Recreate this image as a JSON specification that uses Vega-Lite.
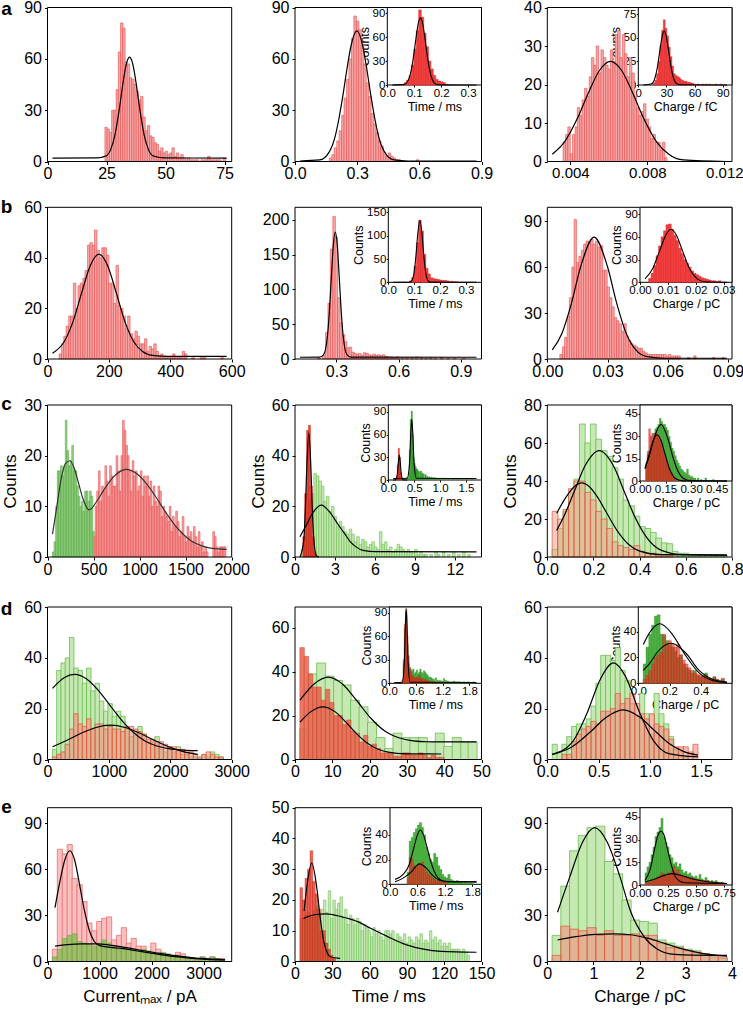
{
"$schema": "https://vega.github.io/schema/vega-lite/v6.json",
"width": 743, "height": 1011, "autosize": {"type": "none"}, "padding": 0, "background": "white",
"config": {
 "view": {"stroke": null},
 "axis": {"domain": false, "grid": false, "ticks": true, "tickColor": "#000", "tickSize": 3, "labelFont": "Liberation Sans", "labelFontSize": 16, "labelColor": "#000", "labelPadding": 3, "labelFlush": false, "labelOverlap": false, "titleFont": "Liberation Sans", "titleFontSize": 17, "titleFontWeight": "normal", "titleColor": "#000", "titlePadding": 4, "zindex": 1},
 "axisBottom": {"labelPadding": 1}
},
"resolve": {"scale": {"x": "independent", "y": "independent"}, "axis": {"x": "independent", "y": "independent"}},
"datasets": {
"A1r": [{"x":24,"y":20},{"x":25,"y":19},{"x":26,"y":17},{"x":27,"y":30},{"x":28,"y":30},{"x":29,"y":42},{"x":30,"y":64},{"x":31,"y":81},{"x":32,"y":78},{"x":33,"y":58},{"x":34,"y":57},{"x":35,"y":49},{"x":36,"y":48},{"x":37,"y":45},{"x":38,"y":41},{"x":39,"y":36},{"x":40,"y":38},{"x":41,"y":26},{"x":42,"y":18},{"x":43,"y":21},{"x":44,"y":15},{"x":45,"y":14},{"x":46,"y":11},{"x":47,"y":10},{"x":48,"y":6},{"x":49,"y":8},{"x":50,"y":5},{"x":51,"y":6},{"x":52,"y":4},{"x":53,"y":5},{"x":54,"y":8},{"x":55,"y":3},{"x":56,"y":5},{"x":57,"y":2},{"x":58,"y":4},{"x":59,"y":2},{"x":60,"y":1},{"x":61,"y":2},{"x":62,"y":1},{"x":63,"y":1},{"x":64,"y":1},{"x":65,"y":1},{"x":67,"y":1},{"x":68,"y":1},{"x":69,"y":1},{"x":70,"y":3},{"x":71,"y":1},{"x":72,"y":1},{"x":73,"y":1},{"x":74,"y":1},{"x":75,"y":1},{"x":77,"y":2}],
"A1c": [{"x":0,"y":2},{"x":20,"y":2.1},{"x":24,"y":3.3},{"x":26,"y":6.8},{"x":28,"y":15.7},{"x":30,"y":31.3},{"x":31.5,"y":45.2},{"x":32.5,"y":53.4},{"x":33.5,"y":59},{"x":34.5,"y":61},{"x":35.5,"y":59},{"x":36.5,"y":53.4},{"x":37.5,"y":45.2},{"x":39,"y":31.3},{"x":41,"y":15.7},{"x":43,"y":6.8},{"x":45,"y":3.3},{"x":50,"y":2.1},{"x":78,"y":2}],
"A2r": [{"x":0.156,"y":2},{"x":0.169,"y":4},{"x":0.181,"y":8},{"x":0.194,"y":12},{"x":0.206,"y":18},{"x":0.219,"y":27},{"x":0.231,"y":37},{"x":0.244,"y":48},{"x":0.256,"y":60},{"x":0.269,"y":72},{"x":0.281,"y":85},{"x":0.294,"y":82},{"x":0.306,"y":77},{"x":0.319,"y":68},{"x":0.331,"y":57},{"x":0.344,"y":46},{"x":0.356,"y":38},{"x":0.369,"y":28},{"x":0.381,"y":22},{"x":0.394,"y":17},{"x":0.406,"y":12},{"x":0.419,"y":9},{"x":0.431,"y":5},{"x":0.444,"y":3},{"x":0.456,"y":5},{"x":0.469,"y":3},{"x":0.481,"y":2},{"x":0.494,"y":1},{"x":0.506,"y":1},{"x":0.6,"y":1}],
"A2c": [{"x":0,"y":0.3},{"x":0.1,"y":0.9},{"x":0.15,"y":5.8},{"x":0.18,"y":15},{"x":0.2,"y":26},{"x":0.22,"y":39.5},{"x":0.24,"y":54.5},{"x":0.26,"y":67.5},{"x":0.29,"y":76.3},{"x":0.32,"y":67.5},{"x":0.34,"y":54.5},{"x":0.36,"y":39.5},{"x":0.38,"y":26},{"x":0.4,"y":15},{"x":0.43,"y":5.8},{"x":0.48,"y":0.9},{"x":0.55,"y":0.3},{"x":0.9,"y":0.3}],
"A2ir": [{"x":0.055,"y":3},{"x":0.065,"y":6},{"x":0.075,"y":12},{"x":0.085,"y":25},{"x":0.095,"y":45},{"x":0.105,"y":68},{"x":0.115,"y":94},{"x":0.125,"y":85},{"x":0.135,"y":65},{"x":0.145,"y":48},{"x":0.155,"y":30},{"x":0.165,"y":20},{"x":0.175,"y":12},{"x":0.185,"y":7},{"x":0.195,"y":5},{"x":0.205,"y":4},{"x":0.215,"y":3},{"x":0.225,"y":1}],
"A2ic": [{"x":0,"y":0},{"x":0.05,"y":0.8},{"x":0.07,"y":8.6},{"x":0.08,"y":20.4},{"x":0.09,"y":39.6},{"x":0.1,"y":62},{"x":0.11,"y":80},{"x":0.117,"y":84},{"x":0.125,"y":78.6},{"x":0.135,"y":60},{"x":0.145,"y":37.4},{"x":0.155,"y":18.9},{"x":0.165,"y":7.8},{"x":0.18,"y":1.4},{"x":0.2,"y":0.1},{"x":0.35,"y":0}],
"A3r": [{"x":0.00346,"y":5},{"x":0.0036,"y":7},{"x":0.00372,"y":9},{"x":0.00386,"y":2},{"x":0.00398,"y":7},{"x":0.00412,"y":9},{"x":0.00424,"y":14},{"x":0.00438,"y":12},{"x":0.0045,"y":16},{"x":0.00464,"y":19},{"x":0.00476,"y":17},{"x":0.0049,"y":22},{"x":0.00502,"y":27},{"x":0.00516,"y":25},{"x":0.00528,"y":30},{"x":0.00542,"y":23},{"x":0.00554,"y":29},{"x":0.00568,"y":27},{"x":0.0058,"y":25},{"x":0.00594,"y":24},{"x":0.00606,"y":29},{"x":0.0062,"y":26},{"x":0.00632,"y":33},{"x":0.00646,"y":34},{"x":0.00658,"y":27},{"x":0.00672,"y":33},{"x":0.00684,"y":28},{"x":0.00698,"y":22},{"x":0.0071,"y":27},{"x":0.00724,"y":23},{"x":0.00736,"y":17},{"x":0.0075,"y":14},{"x":0.00762,"y":12},{"x":0.00776,"y":13},{"x":0.00788,"y":15},{"x":0.00802,"y":11},{"x":0.00814,"y":9},{"x":0.00828,"y":6},{"x":0.0084,"y":7},{"x":0.00854,"y":5},{"x":0.00866,"y":5},{"x":0.0088,"y":3},{"x":0.00892,"y":5},{"x":0.00904,"y":1}],
"A3c": [{"x":0.0028,"y":1.9},{"x":0.0035,"y":5.3},{"x":0.0042,"y":11.4},{"x":0.0048,"y":18},{"x":0.0054,"y":23.7},{"x":0.006,"y":26},{"x":0.0066,"y":23.7},{"x":0.0072,"y":18},{"x":0.0078,"y":11.4},{"x":0.0085,"y":5.3},{"x":0.0092,"y":1.9},{"x":0.01,"y":0.4},{"x":0.0124,"y":0}],
"A3ir": [{"x":13,"y":2},{"x":15,"y":5},{"x":17,"y":12},{"x":19,"y":25},{"x":21,"y":42},{"x":23,"y":58},{"x":25,"y":69},{"x":27,"y":60},{"x":29,"y":52},{"x":31,"y":40},{"x":33,"y":30},{"x":35,"y":20},{"x":37,"y":12},{"x":39,"y":10},{"x":41,"y":9},{"x":43,"y":8},{"x":45,"y":6},{"x":47,"y":5},{"x":49,"y":4},{"x":51,"y":4},{"x":53,"y":3},{"x":55,"y":3},{"x":57,"y":2},{"x":59,"y":2},{"x":61,"y":1},{"x":65,"y":1},{"x":71,"y":1},{"x":75,"y":1},{"x":79,"y":1},{"x":87,"y":1},{"x":93,"y":1}],
"A3ic": [{"x":0,"y":0},{"x":10,"y":1.4},{"x":14,"y":7.7},{"x":17,"y":19.8},{"x":20,"y":37.7},{"x":23,"y":53.4},{"x":25,"y":57},{"x":27,"y":53.4},{"x":30,"y":37.7},{"x":33,"y":19.8},{"x":36,"y":7.7},{"x":40,"y":1.4},{"x":45,"y":0.2},{"x":100,"y":0}],
"B1r": [{"x":27,"y":2},{"x":35,"y":6},{"x":43,"y":9},{"x":51,"y":13},{"x":60,"y":17},{"x":67,"y":17},{"x":76,"y":30},{"x":84,"y":20},{"x":92,"y":29},{"x":100,"y":30},{"x":109,"y":32},{"x":116,"y":35},{"x":125,"y":45},{"x":133,"y":46},{"x":141,"y":45},{"x":149,"y":51},{"x":158,"y":43},{"x":165,"y":40},{"x":174,"y":44},{"x":182,"y":44},{"x":190,"y":41},{"x":198,"y":30},{"x":207,"y":30},{"x":214,"y":22},{"x":223,"y":37},{"x":230,"y":21},{"x":239,"y":20},{"x":247,"y":17},{"x":255,"y":12},{"x":263,"y":17},{"x":272,"y":10},{"x":279,"y":8},{"x":288,"y":11},{"x":296,"y":9},{"x":304,"y":6},{"x":312,"y":6},{"x":321,"y":8},{"x":328,"y":3},{"x":337,"y":5},{"x":345,"y":4},{"x":353,"y":6},{"x":361,"y":3},{"x":370,"y":1},{"x":377,"y":2},{"x":386,"y":1},{"x":393,"y":1},{"x":402,"y":1},{"x":410,"y":1},{"x":418,"y":2},{"x":426,"y":1},{"x":435,"y":1},{"x":442,"y":1},{"x":451,"y":3},{"x":459,"y":2},{"x":484,"y":1},{"x":513,"y":1},{"x":524,"y":1},{"x":584,"y":1}],
"B1c": [{"x":0,"y":2.3},{"x":40,"y":6.8},{"x":70,"y":14.6},{"x":100,"y":26},{"x":130,"y":36.9},{"x":160,"y":41.5},{"x":190,"y":36.9},{"x":220,"y":26},{"x":250,"y":14.6},{"x":280,"y":6.8},{"x":310,"y":3},{"x":350,"y":1.3},{"x":400,"y":1},{"x":600,"y":1}],
"B2r": [{"x":0.196,"y":1},{"x":0.22,"y":5},{"x":0.237,"y":38},{"x":0.249,"y":80},{"x":0.261,"y":158},{"x":0.274,"y":205},{"x":0.285,"y":175},{"x":0.298,"y":88},{"x":0.309,"y":52},{"x":0.322,"y":35},{"x":0.333,"y":25},{"x":0.346,"y":16},{"x":0.357,"y":17},{"x":0.37,"y":10},{"x":0.381,"y":8},{"x":0.394,"y":7},{"x":0.405,"y":8},{"x":0.418,"y":5},{"x":0.429,"y":9},{"x":0.442,"y":8},{"x":0.454,"y":6},{"x":0.466,"y":5},{"x":0.478,"y":7},{"x":0.491,"y":5},{"x":0.502,"y":6},{"x":0.515,"y":5},{"x":0.526,"y":6},{"x":0.539,"y":4},{"x":0.55,"y":3},{"x":0.566,"y":3},{"x":0.582,"y":2},{"x":0.598,"y":3},{"x":0.622,"y":2},{"x":0.646,"y":2},{"x":0.671,"y":2},{"x":0.695,"y":3},{"x":0.719,"y":2},{"x":0.743,"y":1},{"x":0.767,"y":2},{"x":0.791,"y":1},{"x":0.823,"y":2},{"x":0.855,"y":1},{"x":0.888,"y":1},{"x":0.936,"y":1}],
"B2c": [{"x":0.1,"y":2.5},{"x":0.2,"y":2.7},{"x":0.22,"y":5.9},{"x":0.24,"y":33},{"x":0.25,"y":69},{"x":0.26,"y":118},{"x":0.27,"y":164},{"x":0.28,"y":182.5},{"x":0.29,"y":164},{"x":0.3,"y":118},{"x":0.31,"y":69},{"x":0.32,"y":33},{"x":0.34,"y":5.9},{"x":0.36,"y":2.7},{"x":1.0,"y":2.5}],
"B2ir": [{"x":0.075,"y":3},{"x":0.085,"y":10},{"x":0.095,"y":35},{"x":0.105,"y":85},{"x":0.115,"y":133},{"x":0.125,"y":110},{"x":0.135,"y":60},{"x":0.145,"y":30},{"x":0.155,"y":18},{"x":0.165,"y":10},{"x":0.175,"y":8},{"x":0.185,"y":7},{"x":0.195,"y":6},{"x":0.205,"y":5},{"x":0.215,"y":4},{"x":0.225,"y":4},{"x":0.235,"y":3},{"x":0.245,"y":2},{"x":0.255,"y":2},{"x":0.265,"y":1},{"x":0.275,"y":1}],
"B2ic": [{"x":0,"y":0},{"x":0.07,"y":0},{"x":0.08,"y":3.6},{"x":0.09,"y":21},{"x":0.1,"y":68},{"x":0.105,"y":99},{"x":0.115,"y":133},{"x":0.125,"y":99},{"x":0.13,"y":68},{"x":0.14,"y":21},{"x":0.15,"y":3.6},{"x":0.16,"y":0.3},{"x":0.36,"y":0}],
"B3r": [{"x":0.0046,"y":3},{"x":0.006,"y":8},{"x":0.0071,"y":14},{"x":0.0085,"y":28},{"x":0.0096,"y":40},{"x":0.0109,"y":60},{"x":0.0121,"y":91},{"x":0.0134,"y":63},{"x":0.0146,"y":67},{"x":0.0159,"y":71},{"x":0.0171,"y":75},{"x":0.0184,"y":77},{"x":0.0196,"y":76},{"x":0.0209,"y":78},{"x":0.022,"y":75},{"x":0.0234,"y":77},{"x":0.0245,"y":73},{"x":0.0259,"y":74},{"x":0.027,"y":58},{"x":0.0283,"y":58},{"x":0.0295,"y":47},{"x":0.0308,"y":40},{"x":0.032,"y":34},{"x":0.0333,"y":27},{"x":0.0345,"y":25},{"x":0.0358,"y":23},{"x":0.037,"y":18},{"x":0.0383,"y":23},{"x":0.0394,"y":15},{"x":0.0408,"y":12},{"x":0.0419,"y":10},{"x":0.0433,"y":9},{"x":0.0444,"y":8},{"x":0.0457,"y":7},{"x":0.0469,"y":7},{"x":0.0482,"y":5},{"x":0.0494,"y":4},{"x":0.0507,"y":3},{"x":0.0519,"y":3},{"x":0.0532,"y":3},{"x":0.0544,"y":3},{"x":0.0557,"y":3},{"x":0.0569,"y":3},{"x":0.0582,"y":3},{"x":0.0593,"y":3},{"x":0.0607,"y":2},{"x":0.0618,"y":3},{"x":0.0632,"y":2},{"x":0.0643,"y":2},{"x":0.0656,"y":2},{"x":0.0668,"y":2},{"x":0.0718,"y":1},{"x":0.0751,"y":2},{"x":0.085,"y":1},{"x":0.09,"y":1}],
"B3c": [{"x":0,"y":5.9},{"x":0.005,"y":16.5},{"x":0.01,"y":36},{"x":0.015,"y":60.5},{"x":0.022,"y":79.5},{"x":0.029,"y":60.5},{"x":0.034,"y":36},{"x":0.039,"y":16.5},{"x":0.044,"y":5.9},{"x":0.05,"y":1.5},{"x":0.06,"y":0.5},{"x":0.092,"y":0.5}],
"B3ir": [{"x":0.002,"y":5},{"x":0.003,"y":12},{"x":0.004,"y":22},{"x":0.005,"y":35},{"x":0.006,"y":48},{"x":0.007,"y":60},{"x":0.008,"y":68},{"x":0.009,"y":76},{"x":0.01,"y":77},{"x":0.011,"y":70},{"x":0.012,"y":62},{"x":0.013,"y":55},{"x":0.014,"y":45},{"x":0.015,"y":38},{"x":0.016,"y":30},{"x":0.017,"y":25},{"x":0.018,"y":20},{"x":0.019,"y":15},{"x":0.02,"y":12},{"x":0.021,"y":10},{"x":0.022,"y":8},{"x":0.023,"y":6},{"x":0.024,"y":5},{"x":0.025,"y":4},{"x":0.026,"y":3},{"x":0.027,"y":2},{"x":0.028,"y":2},{"x":0.029,"y":1},{"x":0.03,"y":2}],
"B3ic": [{"x":0,"y":4.6},{"x":0.003,"y":17.4},{"x":0.006,"y":42.5},{"x":0.0085,"y":63},{"x":0.0105,"y":70},{"x":0.0125,"y":63},{"x":0.015,"y":42.5},{"x":0.018,"y":17.4},{"x":0.021,"y":4.6},{"x":0.024,"y":0.8},{"x":0.033,"y":0}],
"C1g": [{"x":9,"y":1},{"x":28,"y":3},{"x":46,"y":10},{"x":65,"y":17},{"x":83,"y":17},{"x":102,"y":18},{"x":120,"y":16},{"x":139,"y":18},{"x":157,"y":27},{"x":176,"y":21},{"x":194,"y":18},{"x":213,"y":19},{"x":231,"y":22},{"x":250,"y":17},{"x":268,"y":17},{"x":287,"y":14},{"x":305,"y":12},{"x":324,"y":10},{"x":342,"y":11},{"x":361,"y":9},{"x":379,"y":13},{"x":398,"y":13},{"x":416,"y":11},{"x":435,"y":13},{"x":453,"y":12},{"x":470,"y":5}],
"C1r": [{"x":488,"y":4},{"x":500,"y":10},{"x":518,"y":13},{"x":537,"y":17},{"x":555,"y":11},{"x":574,"y":14},{"x":592,"y":13},{"x":611,"y":18},{"x":629,"y":15},{"x":648,"y":12},{"x":666,"y":18},{"x":685,"y":16},{"x":703,"y":14},{"x":722,"y":14},{"x":740,"y":20},{"x":759,"y":17},{"x":777,"y":13},{"x":796,"y":20},{"x":814,"y":27},{"x":833,"y":25},{"x":851,"y":22},{"x":870,"y":20},{"x":888,"y":17},{"x":907,"y":13},{"x":925,"y":19},{"x":944,"y":16},{"x":962,"y":17},{"x":981,"y":13},{"x":999,"y":14},{"x":1018,"y":17},{"x":1036,"y":12},{"x":1055,"y":16},{"x":1073,"y":14},{"x":1092,"y":16},{"x":1110,"y":12},{"x":1129,"y":15},{"x":1147,"y":10},{"x":1166,"y":14},{"x":1184,"y":11},{"x":1203,"y":10},{"x":1221,"y":14},{"x":1240,"y":13},{"x":1258,"y":8},{"x":1277,"y":10},{"x":1295,"y":9},{"x":1314,"y":8},{"x":1332,"y":7},{"x":1351,"y":10},{"x":1369,"y":5},{"x":1388,"y":8},{"x":1406,"y":6},{"x":1425,"y":9},{"x":1443,"y":7},{"x":1462,"y":4},{"x":1480,"y":5},{"x":1499,"y":8},{"x":1517,"y":4},{"x":1536,"y":3},{"x":1554,"y":6},{"x":1573,"y":4},{"x":1591,"y":5},{"x":1610,"y":3},{"x":1628,"y":6},{"x":1647,"y":4},{"x":1665,"y":2},{"x":1684,"y":5},{"x":1702,"y":2},{"x":1721,"y":3},{"x":1739,"y":1},{"x":1758,"y":2},{"x":1776,"y":1},{"x":1850,"y":5},{"x":1869,"y":4},{"x":1887,"y":2},{"x":1906,"y":1},{"x":1924,"y":2},{"x":1943,"y":2},{"x":1961,"y":2},{"x":1980,"y":2}],
"C1c": [{"x":0,"y":4.5},{"x":50,"y":10},{"x":100,"y":15.5},{"x":150,"y":18.5},{"x":200,"y":19},{"x":250,"y":17.5},{"x":300,"y":14.5},{"x":350,"y":11.5},{"x":400,"y":9.6},{"x":420,"y":9.3},{"x":450,"y":9.6},{"x":500,"y":10.8},{"x":600,"y":13.5},{"x":700,"y":15.8},{"x":800,"y":17.1},{"x":850,"y":17.3},{"x":900,"y":17.1},{"x":1000,"y":16},{"x":1100,"y":14},{"x":1200,"y":11.5},{"x":1300,"y":8.8},{"x":1400,"y":6.4},{"x":1500,"y":4.5},{"x":1600,"y":3.1},{"x":1700,"y":2.3},{"x":1800,"y":1.8},{"x":1900,"y":1.6},{"x":2000,"y":1.5}],
"C2g": [{"x":0.2,"y":3},{"x":0.4,"y":8},{"x":0.6,"y":15},{"x":0.8,"y":22},{"x":1.0,"y":25},{"x":1.2,"y":33},{"x":1.4,"y":32},{"x":1.6,"y":30},{"x":1.8,"y":28},{"x":2.0,"y":22},{"x":2.2,"y":24},{"x":2.4,"y":18},{"x":2.6,"y":20},{"x":2.8,"y":16},{"x":3.0,"y":12},{"x":3.2,"y":14},{"x":3.4,"y":12},{"x":3.6,"y":10},{"x":3.8,"y":9},{"x":4.0,"y":11},{"x":4.2,"y":9},{"x":4.4,"y":6},{"x":4.6,"y":8},{"x":4.8,"y":5},{"x":5.0,"y":7},{"x":5.2,"y":6},{"x":5.4,"y":4},{"x":5.6,"y":5},{"x":5.8,"y":6},{"x":6.0,"y":4},{"x":6.2,"y":3},{"x":6.4,"y":10},{"x":6.6,"y":5},{"x":6.8,"y":6},{"x":7.0,"y":3},{"x":7.2,"y":4},{"x":7.4,"y":2},{"x":7.6,"y":3},{"x":7.8,"y":5},{"x":8.0,"y":4},{"x":8.2,"y":3},{"x":8.4,"y":2},{"x":8.6,"y":3},{"x":8.8,"y":2},{"x":9.0,"y":2},{"x":9.2,"y":3},{"x":9.4,"y":1},{"x":9.6,"y":2},{"x":9.8,"y":1},{"x":10.0,"y":1},{"x":10.4,"y":1},{"x":10.8,"y":2},{"x":11.0,"y":1},{"x":11.4,"y":2},{"x":11.8,"y":1},{"x":12.2,"y":2},{"x":12.6,"y":1},{"x":13.0,"y":2},{"x":13.4,"y":1}],
"C2r": [{"x":0.3,"y":8},{"x":0.45,"y":25},{"x":0.6,"y":50},{"x":0.75,"y":52},{"x":0.9,"y":28},{"x":1.05,"y":8},{"x":1.2,"y":2}],
"C2c1": [{"x":0,"y":0},{"x":0.3,"y":6.6},{"x":0.45,"y":22.4},{"x":0.55,"y":37},{"x":0.7,"y":49},{"x":0.85,"y":37},{"x":0.95,"y":22.4},{"x":1.1,"y":6.6},{"x":1.3,"y":0.5},{"x":1.5,"y":0}],
"C2c2": [{"x":0,"y":8},{"x":0.5,"y":12.5},{"x":1.0,"y":17.3},{"x":1.7,"y":20.5},{"x":2.3,"y":18.1},{"x":3.0,"y":13},{"x":3.5,"y":9.5},{"x":4.0,"y":6},{"x":4.5,"y":3.8},{"x":5.0,"y":2.6},{"x":6.0,"y":2.1},{"x":14,"y":2}],
"C2ir": [{"x":0.08,"y":5},{"x":0.1,"y":20},{"x":0.12,"y":42},{"x":0.14,"y":30},{"x":0.16,"y":10},{"x":0.18,"y":3}],
"C2ig": [{"x":0.1,"y":2},{"x":0.14,"y":3},{"x":0.2,"y":2},{"x":0.3,"y":3},{"x":0.34,"y":10},{"x":0.36,"y":40},{"x":0.38,"y":80},{"x":0.4,"y":91},{"x":0.42,"y":60},{"x":0.44,"y":30},{"x":0.46,"y":22},{"x":0.48,"y":18},{"x":0.5,"y":15},{"x":0.52,"y":14},{"x":0.55,"y":12},{"x":0.58,"y":10},{"x":0.6,"y":12},{"x":0.63,"y":9},{"x":0.66,"y":8},{"x":0.7,"y":7},{"x":0.74,"y":5},{"x":0.78,"y":4},{"x":0.82,"y":4},{"x":0.86,"y":3},{"x":0.9,"y":3},{"x":0.95,"y":2},{"x":1.0,"y":2},{"x":1.1,"y":2},{"x":1.2,"y":1},{"x":1.3,"y":1},{"x":1.4,"y":1},{"x":1.5,"y":1},{"x":1.6,"y":1},{"x":1.7,"y":1}],
"C2ic1": [{"x":0,"y":0},{"x":0.05,"y":0.2},{"x":0.09,"y":9.2},{"x":0.11,"y":24},{"x":0.13,"y":33},{"x":0.15,"y":24},{"x":0.17,"y":9.2},{"x":0.21,"y":0.2},{"x":0.3,"y":0}],
"C2ic2": [{"x":0,"y":2},{"x":0.3,"y":2.3},{"x":0.35,"y":21.5},{"x":0.38,"y":64.5},{"x":0.4,"y":80},{"x":0.42,"y":64.5},{"x":0.45,"y":21.5},{"x":0.5,"y":2.3},{"x":1.8,"y":2}],
"C3g": [{"x":0.0125,"y":4},{"x":0.0375,"y":15},{"x":0.0625,"y":24},{"x":0.0875,"y":34},{"x":0.1125,"y":41},{"x":0.1375,"y":70},{"x":0.1625,"y":60},{"x":0.1875,"y":70},{"x":0.2125,"y":62},{"x":0.2375,"y":56},{"x":0.2625,"y":53},{"x":0.2875,"y":47},{"x":0.3125,"y":41},{"x":0.3375,"y":30},{"x":0.3625,"y":27},{"x":0.3875,"y":21.5},{"x":0.4125,"y":16},{"x":0.4375,"y":15},{"x":0.4625,"y":13},{"x":0.4875,"y":10},{"x":0.5125,"y":7.5},{"x":0.5375,"y":7},{"x":0.5625,"y":3},{"x":0.5875,"y":2},{"x":0.6125,"y":2},{"x":0.6375,"y":1},{"x":0.6625,"y":1},{"x":0.6875,"y":1},{"x":0.7125,"y":1},{"x":0.7375,"y":1},{"x":0.7625,"y":1},{"x":0.7875,"y":1}],
"C3r": [{"x":0.0125,"y":24},{"x":0.0375,"y":20},{"x":0.0625,"y":25},{"x":0.0875,"y":36},{"x":0.1125,"y":40},{"x":0.1375,"y":40},{"x":0.1625,"y":34},{"x":0.1875,"y":30},{"x":0.2125,"y":24},{"x":0.2375,"y":20},{"x":0.2625,"y":15},{"x":0.2875,"y":8},{"x":0.3125,"y":6},{"x":0.3375,"y":5},{"x":0.3625,"y":4},{"x":0.3875,"y":6},{"x":0.4125,"y":3},{"x":0.4375,"y":2},{"x":0.4625,"y":2},{"x":0.4875,"y":1},{"x":0.5125,"y":1},{"x":0.5375,"y":1}],
"C3c1": [{"x":0.02,"y":14},{"x":0.05,"y":20.6},{"x":0.1,"y":34.3},{"x":0.15,"y":48},{"x":0.215,"y":56},{"x":0.28,"y":48},{"x":0.33,"y":34.3},{"x":0.38,"y":20.6},{"x":0.43,"y":10.6},{"x":0.5,"y":3.5},{"x":0.6,"y":1.2},{"x":0.8,"y":1}],
"C3c2": [{"x":0.02,"y":23},{"x":0.06,"y":31},{"x":0.1,"y":37},{"x":0.135,"y":39},{"x":0.17,"y":37},{"x":0.21,"y":31},{"x":0.25,"y":23},{"x":0.3,"y":13.4},{"x":0.35,"y":6.6},{"x":0.4,"y":3.1},{"x":0.5,"y":1.2},{"x":0.8,"y":1}],
"C3ig": [{"x":0.01,"y":12},{"x":0.02,"y":18},{"x":0.03,"y":20},{"x":0.04,"y":24},{"x":0.05,"y":27},{"x":0.06,"y":32},{"x":0.07,"y":35},{"x":0.08,"y":36},{"x":0.09,"y":38},{"x":0.1,"y":42},{"x":0.11,"y":40},{"x":0.12,"y":38},{"x":0.13,"y":38},{"x":0.14,"y":36},{"x":0.15,"y":34},{"x":0.16,"y":30},{"x":0.17,"y":26},{"x":0.18,"y":22},{"x":0.19,"y":20},{"x":0.2,"y":17},{"x":0.21,"y":14},{"x":0.22,"y":12},{"x":0.23,"y":10},{"x":0.24,"y":8},{"x":0.25,"y":7},{"x":0.26,"y":6},{"x":0.27,"y":5},{"x":0.28,"y":8},{"x":0.29,"y":4},{"x":0.3,"y":3},{"x":0.31,"y":3},{"x":0.32,"y":2},{"x":0.33,"y":2},{"x":0.35,"y":2},{"x":0.37,"y":1},{"x":0.4,"y":2},{"x":0.45,"y":1}],
"C3ir": [{"x":0.01,"y":10},{"x":0.02,"y":20},{"x":0.03,"y":35},{"x":0.04,"y":30},{"x":0.05,"y":32},{"x":0.06,"y":30},{"x":0.07,"y":32},{"x":0.08,"y":31},{"x":0.09,"y":30},{"x":0.1,"y":28},{"x":0.11,"y":24},{"x":0.12,"y":20},{"x":0.13,"y":17},{"x":0.14,"y":14},{"x":0.15,"y":11},{"x":0.16,"y":9},{"x":0.17,"y":6},{"x":0.18,"y":5},{"x":0.19,"y":3},{"x":0.2,"y":2},{"x":0.22,"y":1},{"x":0.25,"y":1},{"x":0.3,"y":1}],
"C3ic1": [{"x":0,"y":8.2},{"x":0.03,"y":17.4},{"x":0.06,"y":28.7},{"x":0.105,"y":38},{"x":0.15,"y":28.7},{"x":0.18,"y":17.4},{"x":0.21,"y":8.2},{"x":0.25,"y":2},{"x":0.3,"y":0.2},{"x":0.54,"y":0}],
"C3ic2": [{"x":0,"y":8.6},{"x":0.03,"y":18.8},{"x":0.055,"y":27.3},{"x":0.08,"y":31},{"x":0.105,"y":27.3},{"x":0.13,"y":18.8},{"x":0.16,"y":8.6},{"x":0.2,"y":1.7},{"x":0.25,"y":0.1},{"x":0.54,"y":0}],
"D1g": [{"x":37,"y":4},{"x":110,"y":35},{"x":184,"y":38},{"x":257,"y":40},{"x":331,"y":48},{"x":404,"y":36},{"x":478,"y":35},{"x":551,"y":30},{"x":625,"y":36},{"x":698,"y":27},{"x":772,"y":30},{"x":845,"y":23},{"x":919,"y":19},{"x":992,"y":22},{"x":1066,"y":17},{"x":1139,"y":19},{"x":1213,"y":17},{"x":1286,"y":12},{"x":1360,"y":9},{"x":1433,"y":11},{"x":1507,"y":13},{"x":1580,"y":10},{"x":1654,"y":7},{"x":1727,"y":7},{"x":1801,"y":9},{"x":1874,"y":4},{"x":1948,"y":3},{"x":2021,"y":5},{"x":2095,"y":3},{"x":2168,"y":5},{"x":2242,"y":2},{"x":2315,"y":2},{"x":2389,"y":1},{"x":2462,"y":1},{"x":2536,"y":0.5},{"x":2609,"y":2},{"x":2683,"y":1},{"x":2756,"y":3},{"x":2830,"y":2},{"x":2903,"y":1}],
"D1r": [{"x":37,"y":1},{"x":110,"y":2},{"x":184,"y":3},{"x":257,"y":6},{"x":331,"y":12},{"x":404,"y":18},{"x":478,"y":14},{"x":551,"y":13},{"x":625,"y":16},{"x":698,"y":12},{"x":772,"y":14},{"x":845,"y":14},{"x":919,"y":12},{"x":992,"y":13},{"x":1066,"y":12},{"x":1139,"y":12},{"x":1213,"y":11},{"x":1286,"y":13},{"x":1360,"y":13},{"x":1433,"y":12},{"x":1507,"y":11},{"x":1580,"y":10},{"x":1654,"y":8},{"x":1727,"y":8},{"x":1801,"y":7},{"x":1874,"y":7},{"x":1948,"y":6},{"x":2021,"y":5},{"x":2095,"y":5},{"x":2168,"y":4},{"x":2242,"y":4},{"x":2315,"y":3},{"x":2389,"y":3},{"x":2462,"y":2},{"x":2536,"y":1},{"x":2609,"y":2},{"x":2683,"y":3},{"x":2756,"y":2},{"x":2830,"y":1},{"x":2903,"y":1}],
"D1c1": [{"x":0,"y":28},{"x":200,"y":32.2},{"x":380,"y":33.5},{"x":600,"y":31.5},{"x":800,"y":26.9},{"x":1000,"y":21},{"x":1200,"y":15.2},{"x":1400,"y":10.5},{"x":1600,"y":7.2},{"x":1800,"y":5.3},{"x":2000,"y":4.3},{"x":2250,"y":3.7},{"x":2500,"y":3.5}],
"D1c2": [{"x":0,"y":5},{"x":250,"y":7.6},{"x":500,"y":10.4},{"x":750,"y":12.6},{"x":1000,"y":13.5},{"x":1250,"y":12.6},{"x":1500,"y":10.4},{"x":1750,"y":7.6},{"x":2000,"y":5},{"x":2250,"y":3.1},{"x":2500,"y":2}],
"D2g": [{"x":1.2,"y":14},{"x":3.6,"y":39},{"x":6.0,"y":44},{"x":8.4,"y":38},{"x":10.8,"y":36},{"x":13.2,"y":34},{"x":15.6,"y":27},{"x":18.0,"y":24},{"x":20.4,"y":17},{"x":22.8,"y":10},{"x":25.2,"y":5},{"x":27.6,"y":12},{"x":30.0,"y":10},{"x":32.4,"y":10},{"x":34.8,"y":10},{"x":37.2,"y":8},{"x":39.6,"y":12},{"x":42.0,"y":6},{"x":44.4,"y":10},{"x":46.8,"y":8},{"x":48.9,"y":8}],
"D2r": [{"x":0.6,"y":51},{"x":1.8,"y":47},{"x":3.0,"y":39},{"x":4.2,"y":33},{"x":5.4,"y":33},{"x":6.6,"y":27},{"x":7.8,"y":32},{"x":9.0,"y":26},{"x":10.2,"y":20},{"x":11.4,"y":20},{"x":12.6,"y":16},{"x":13.8,"y":18},{"x":15.0,"y":13},{"x":16.2,"y":12},{"x":17.4,"y":8},{"x":18.6,"y":11},{"x":19.8,"y":6},{"x":21.0,"y":7},{"x":22.2,"y":5},{"x":23.4,"y":3},{"x":24.6,"y":3},{"x":25.8,"y":3},{"x":27.0,"y":1.5},{"x":28.2,"y":1.5},{"x":29.4,"y":3},{"x":30.6,"y":3},{"x":31.8,"y":2},{"x":33.0,"y":2},{"x":34.2,"y":3},{"x":35.4,"y":2},{"x":36.6,"y":1},{"x":37.8,"y":2},{"x":39.0,"y":1},{"x":40.2,"y":1}],
"D2c1": [{"x":0,"y":27},{"x":4,"y":34.4},{"x":8,"y":37.5},{"x":12,"y":34.4},{"x":16,"y":27},{"x":20,"y":18.9},{"x":24,"y":13},{"x":28,"y":9.9},{"x":32,"y":8.5},{"x":36,"y":8.1},{"x":50,"y":8}],
"D2c2": [{"x":0,"y":17},{"x":3,"y":21.7},{"x":6.5,"y":24},{"x":10,"y":21.7},{"x":13,"y":17},{"x":16,"y":11.8},{"x":19,"y":7.5},{"x":22,"y":4.8},{"x":25,"y":3.4},{"x":30,"y":2.6},{"x":40,"y":2.5}],
"D2ig": [{"x":0.24,"y":25},{"x":0.27,"y":70},{"x":0.3,"y":90},{"x":0.33,"y":50},{"x":0.36,"y":25},{"x":0.39,"y":20},{"x":0.42,"y":18},{"x":0.45,"y":15},{"x":0.48,"y":18},{"x":0.51,"y":12},{"x":0.54,"y":14},{"x":0.57,"y":17},{"x":0.6,"y":12},{"x":0.63,"y":14},{"x":0.66,"y":18},{"x":0.69,"y":14},{"x":0.72,"y":12},{"x":0.75,"y":16},{"x":0.78,"y":14},{"x":0.81,"y":12},{"x":0.84,"y":10},{"x":0.87,"y":8},{"x":0.9,"y":8},{"x":0.93,"y":7},{"x":0.96,"y":6},{"x":1.0,"y":5},{"x":1.05,"y":7},{"x":1.1,"y":4},{"x":1.15,"y":4},{"x":1.2,"y":3},{"x":1.25,"y":6},{"x":1.3,"y":4},{"x":1.35,"y":3},{"x":1.4,"y":2},{"x":1.45,"y":2},{"x":1.5,"y":3},{"x":1.55,"y":2},{"x":1.6,"y":2},{"x":1.65,"y":2},{"x":1.7,"y":1},{"x":1.75,"y":2},{"x":1.8,"y":1},{"x":1.85,"y":2},{"x":1.9,"y":1},{"x":1.95,"y":1},{"x":2.0,"y":2}],
"D2ir": [{"x":0.21,"y":5},{"x":0.24,"y":30},{"x":0.27,"y":75},{"x":0.3,"y":95},{"x":0.33,"y":60},{"x":0.36,"y":35},{"x":0.39,"y":20},{"x":0.42,"y":15},{"x":0.45,"y":10},{"x":0.48,"y":8},{"x":0.51,"y":7},{"x":0.54,"y":6},{"x":0.57,"y":8},{"x":0.6,"y":6},{"x":0.63,"y":10},{"x":0.66,"y":6},{"x":0.69,"y":5},{"x":0.72,"y":6},{"x":0.75,"y":4},{"x":0.78,"y":5},{"x":0.81,"y":4},{"x":0.84,"y":3},{"x":0.87,"y":3},{"x":0.9,"y":2},{"x":0.95,"y":2},{"x":1.0,"y":2},{"x":1.1,"y":1},{"x":1.2,"y":1}],
"D2ic": [{"x":0,"y":1},{"x":0.2,"y":1.4},{"x":0.25,"y":24},{"x":0.28,"y":75},{"x":0.3,"y":94},{"x":0.32,"y":75},{"x":0.35,"y":24},{"x":0.4,"y":1.4},{"x":2.07,"y":1}],
"D3g": [{"x":0.025,"y":6},{"x":0.075,"y":3},{"x":0.125,"y":6},{"x":0.175,"y":9},{"x":0.225,"y":13},{"x":0.275,"y":14},{"x":0.325,"y":14},{"x":0.375,"y":16},{"x":0.425,"y":21},{"x":0.475,"y":30},{"x":0.525,"y":41},{"x":0.575,"y":41},{"x":0.625,"y":39},{"x":0.675,"y":44},{"x":0.725,"y":35},{"x":0.775,"y":31},{"x":0.825,"y":22},{"x":0.875,"y":17},{"x":0.925,"y":26},{"x":0.975,"y":18},{"x":1.025,"y":10},{"x":1.075,"y":26},{"x":1.125,"y":18},{"x":1.175,"y":14},{"x":1.225,"y":9},{"x":1.275,"y":4},{"x":1.325,"y":3},{"x":1.375,"y":1}],
"D3r": [{"x":0.125,"y":2},{"x":0.175,"y":2},{"x":0.225,"y":7},{"x":0.275,"y":10},{"x":0.325,"y":12},{"x":0.375,"y":13},{"x":0.425,"y":15},{"x":0.475,"y":14},{"x":0.525,"y":19},{"x":0.575,"y":19},{"x":0.625,"y":20},{"x":0.675,"y":26},{"x":0.725,"y":22},{"x":0.775,"y":24},{"x":0.825,"y":26},{"x":0.875,"y":22},{"x":0.925,"y":18},{"x":0.975,"y":16},{"x":1.025,"y":18},{"x":1.075,"y":14},{"x":1.125,"y":13},{"x":1.175,"y":12},{"x":1.225,"y":8},{"x":1.275,"y":5},{"x":1.325,"y":5},{"x":1.375,"y":5},{"x":1.425,"y":3},{"x":1.475,"y":6}],
"D3c1": [{"x":0,"y":2},{"x":0.2,"y":6.5},{"x":0.35,"y":17.5},{"x":0.5,"y":32},{"x":0.63,"y":38},{"x":0.75,"y":33},{"x":0.9,"y":18.4},{"x":1.05,"y":7},{"x":1.2,"y":2.3},{"x":1.5,"y":1}],
"D3c2": [{"x":0,"y":2},{"x":0.2,"y":4.9},{"x":0.4,"y":11.1},{"x":0.55,"y":16.4},{"x":0.73,"y":19.5},{"x":0.9,"y":16.7},{"x":1.05,"y":11.5},{"x":1.2,"y":6.4},{"x":1.35,"y":3.2},{"x":1.5,"y":1.7}],
"D3ig": [{"x":0.01,"y":15},{"x":0.03,"y":28},{"x":0.05,"y":38},{"x":0.07,"y":45},{"x":0.09,"y":52},{"x":0.11,"y":53},{"x":0.13,"y":38},{"x":0.15,"y":37},{"x":0.17,"y":33},{"x":0.19,"y":30},{"x":0.21,"y":28},{"x":0.23,"y":25},{"x":0.25,"y":20},{"x":0.27,"y":22},{"x":0.29,"y":15},{"x":0.31,"y":12},{"x":0.33,"y":10},{"x":0.35,"y":8},{"x":0.37,"y":10},{"x":0.39,"y":6},{"x":0.41,"y":5},{"x":0.43,"y":6},{"x":0.45,"y":8},{"x":0.47,"y":4},{"x":0.49,"y":3},{"x":0.51,"y":5},{"x":0.53,"y":3},{"x":0.55,"y":2},{"x":0.57,"y":3}],
"D3ir": [{"x":0.01,"y":3},{"x":0.03,"y":6},{"x":0.05,"y":10},{"x":0.07,"y":15},{"x":0.09,"y":20},{"x":0.11,"y":22},{"x":0.13,"y":24},{"x":0.15,"y":38},{"x":0.17,"y":30},{"x":0.19,"y":33},{"x":0.21,"y":30},{"x":0.23,"y":28},{"x":0.25,"y":30},{"x":0.27,"y":22},{"x":0.29,"y":18},{"x":0.31,"y":15},{"x":0.33,"y":12},{"x":0.35,"y":10},{"x":0.37,"y":8},{"x":0.39,"y":7},{"x":0.41,"y":6},{"x":0.43,"y":5},{"x":0.45,"y":6},{"x":0.47,"y":4},{"x":0.49,"y":3},{"x":0.51,"y":5},{"x":0.53,"y":3},{"x":0.55,"y":2},{"x":0.57,"y":4}],
"D3ic1": [{"x":0,"y":30},{"x":0.05,"y":40},{"x":0.12,"y":46},{"x":0.2,"y":39},{"x":0.3,"y":22},{"x":0.4,"y":8},{"x":0.5,"y":2},{"x":0.6,"y":0.5}],
"D3ic2": [{"x":0,"y":10},{"x":0.05,"y":16},{"x":0.1,"y":24},{"x":0.2,"y":31},{"x":0.3,"y":24},{"x":0.4,"y":10},{"x":0.5,"y":3},{"x":0.6,"y":1}],
"E1r": [{"x":50,"y":8},{"x":150,"y":73},{"x":250,"y":70},{"x":350,"y":76},{"x":450,"y":54},{"x":550,"y":50},{"x":650,"y":39},{"x":750,"y":25},{"x":850,"y":20},{"x":950,"y":26},{"x":1050,"y":28},{"x":1150,"y":29},{"x":1250,"y":14},{"x":1350,"y":17},{"x":1450,"y":22},{"x":1550,"y":12},{"x":1650,"y":15},{"x":1750,"y":10},{"x":1850,"y":10},{"x":1950,"y":6},{"x":2050,"y":12},{"x":2150,"y":8},{"x":2250,"y":4},{"x":2350,"y":3},{"x":2450,"y":3},{"x":2550,"y":6},{"x":2650,"y":5},{"x":2750,"y":2},{"x":2850,"y":1},{"x":2950,"y":2},{"x":3050,"y":3},{"x":3150,"y":2},{"x":3250,"y":3},{"x":3350,"y":2},{"x":3450,"y":2}],
"E1g": [{"x":50,"y":3},{"x":150,"y":8},{"x":250,"y":15},{"x":350,"y":17},{"x":450,"y":18},{"x":550,"y":13},{"x":650,"y":12},{"x":750,"y":11},{"x":850,"y":10},{"x":950,"y":12},{"x":1050,"y":14},{"x":1150,"y":12},{"x":1250,"y":10},{"x":1350,"y":8},{"x":1450,"y":9},{"x":1550,"y":8},{"x":1650,"y":7},{"x":1750,"y":7},{"x":1850,"y":8},{"x":1950,"y":7},{"x":2050,"y":6},{"x":2150,"y":5},{"x":2250,"y":6},{"x":2350,"y":5},{"x":2450,"y":4},{"x":2550,"y":4},{"x":2650,"y":3},{"x":2750,"y":3},{"x":2850,"y":2},{"x":2950,"y":2},{"x":3050,"y":3},{"x":3150,"y":2},{"x":3250,"y":3},{"x":3350,"y":2},{"x":3450,"y":1}],
"E1c1": [{"x":50,"y":35},{"x":150,"y":52},{"x":250,"y":66},{"x":350,"y":72},{"x":450,"y":66},{"x":550,"y":50},{"x":650,"y":33},{"x":750,"y":20},{"x":850,"y":13},{"x":950,"y":10.5},{"x":1100,"y":9.5},{"x":1400,"y":8.5},{"x":1700,"y":7},{"x":2000,"y":5.5},{"x":2300,"y":4},{"x":2600,"y":2.8},{"x":2900,"y":1.8},{"x":3200,"y":1.2},{"x":3500,"y":1}],
"E1c2": [{"x":50,"y":10},{"x":300,"y":11},{"x":600,"y":11.5},{"x":900,"y":11.5},{"x":1200,"y":10.5},{"x":1500,"y":9},{"x":1800,"y":7.3},{"x":2100,"y":5.7},{"x":2400,"y":4.2},{"x":2700,"y":3},{"x":3000,"y":2},{"x":3300,"y":1.5},{"x":3500,"y":1.2}],
"E2g": [{"x":1,"y":14},{"x":3,"y":14},{"x":5,"y":15},{"x":7,"y":16},{"x":9,"y":15},{"x":11,"y":15},{"x":13,"y":17},{"x":15,"y":18},{"x":17,"y":15},{"x":19,"y":17},{"x":21,"y":20},{"x":23,"y":16},{"x":25,"y":23},{"x":27,"y":14},{"x":29,"y":20},{"x":31,"y":17},{"x":33,"y":19},{"x":35,"y":21},{"x":37,"y":14},{"x":39,"y":17},{"x":41,"y":12},{"x":43,"y":15},{"x":45,"y":14},{"x":47,"y":12},{"x":49,"y":14},{"x":51,"y":13},{"x":53,"y":10},{"x":55,"y":12},{"x":57,"y":11},{"x":59,"y":10},{"x":61,"y":8},{"x":63,"y":11},{"x":65,"y":9},{"x":67,"y":10},{"x":69,"y":8},{"x":71,"y":7},{"x":73,"y":10},{"x":75,"y":10},{"x":77,"y":9},{"x":79,"y":10},{"x":81,"y":7},{"x":83,"y":9},{"x":85,"y":8},{"x":87,"y":7},{"x":89,"y":9},{"x":91,"y":6},{"x":93,"y":8},{"x":95,"y":7},{"x":97,"y":6},{"x":99,"y":8},{"x":101,"y":7},{"x":103,"y":9},{"x":105,"y":6},{"x":107,"y":7},{"x":109,"y":6},{"x":111,"y":10},{"x":113,"y":7},{"x":115,"y":8},{"x":117,"y":6},{"x":119,"y":7},{"x":121,"y":5},{"x":123,"y":6},{"x":125,"y":5},{"x":127,"y":6},{"x":129,"y":4},{"x":131,"y":4},{"x":133,"y":4},{"x":135,"y":4},{"x":137,"y":3},{"x":139,"y":4},{"x":141,"y":3},{"x":143,"y":2}],
"E2r": [{"x":1.1,"y":24},{"x":3.2,"y":20},{"x":5.4,"y":27},{"x":7.5,"y":30},{"x":9.7,"y":36},{"x":11.8,"y":26},{"x":14,"y":22},{"x":16.1,"y":17},{"x":18.3,"y":10},{"x":20.4,"y":10},{"x":22.6,"y":6},{"x":24.7,"y":4},{"x":26.9,"y":2},{"x":29,"y":1}],
"E2c1": [{"x":3.5,"y":16.4},{"x":6,"y":24.8},{"x":10,"y":32},{"x":14,"y":24.8},{"x":17,"y":14.8},{"x":20,"y":6.9},{"x":23,"y":2.9},{"x":26,"y":1.45},{"x":34,"y":1}],
"E2c2": [{"x":3,"y":14},{"x":12,"y":15.2},{"x":22,"y":15.5},{"x":35,"y":14.6},{"x":50,"y":12.8},{"x":60,"y":10.8},{"x":75,"y":8},{"x":90,"y":5.5},{"x":105,"y":4},{"x":120,"y":3.3},{"x":150,"y":3}],
"E2ig": [{"x":0.325,"y":10},{"x":0.375,"y":35},{"x":0.425,"y":38},{"x":0.475,"y":42},{"x":0.525,"y":45},{"x":0.575,"y":48},{"x":0.625,"y":50},{"x":0.675,"y":46},{"x":0.725,"y":40},{"x":0.775,"y":30},{"x":0.825,"y":25},{"x":0.875,"y":20},{"x":0.925,"y":18},{"x":0.975,"y":25},{"x":1.025,"y":22},{"x":1.075,"y":15},{"x":1.125,"y":12},{"x":1.175,"y":8},{"x":1.225,"y":6},{"x":1.275,"y":5},{"x":1.325,"y":8},{"x":1.375,"y":4},{"x":1.425,"y":3},{"x":1.475,"y":2},{"x":1.525,"y":3},{"x":1.575,"y":2},{"x":1.625,"y":2},{"x":1.675,"y":1},{"x":1.725,"y":2},{"x":1.775,"y":1},{"x":1.825,"y":1},{"x":1.875,"y":1}],
"E2ir": [{"x":0.325,"y":5},{"x":0.375,"y":22},{"x":0.425,"y":20},{"x":0.475,"y":15},{"x":0.525,"y":14},{"x":0.575,"y":16},{"x":0.625,"y":17},{"x":0.675,"y":18},{"x":0.725,"y":14},{"x":0.775,"y":10},{"x":0.825,"y":8},{"x":0.875,"y":7},{"x":0.925,"y":5},{"x":0.975,"y":4},{"x":1.025,"y":3},{"x":1.075,"y":3},{"x":1.125,"y":2},{"x":1.175,"y":2},{"x":1.225,"y":2},{"x":1.275,"y":1}],
"E2ic1": [{"x":0,"y":4},{"x":0.2,"y":8},{"x":0.35,"y":16},{"x":0.45,"y":28},{"x":0.55,"y":40},{"x":0.62,"y":44},{"x":0.7,"y":40},{"x":0.8,"y":28},{"x":0.9,"y":16},{"x":1.0,"y":8},{"x":1.1,"y":4},{"x":1.3,"y":2},{"x":2.0,"y":2}],
"E2ic2": [{"x":0,"y":2},{"x":0.2,"y":5},{"x":0.4,"y":10},{"x":0.5,"y":14},{"x":0.6,"y":16.5},{"x":0.7,"y":15},{"x":0.8,"y":12},{"x":0.9,"y":8},{"x":1.0,"y":5},{"x":1.2,"y":2.5},{"x":2.0,"y":2}],
"E3g": [{"x":0.1,"y":17},{"x":0.3,"y":49},{"x":0.5,"y":72},{"x":0.7,"y":82},{"x":0.9,"y":87},{"x":1.1,"y":88},{"x":1.3,"y":65},{"x":1.5,"y":57},{"x":1.7,"y":40},{"x":1.9,"y":27},{"x":2.1,"y":26},{"x":2.3,"y":25},{"x":2.5,"y":14},{"x":2.7,"y":12},{"x":2.9,"y":10},{"x":3.1,"y":8},{"x":3.3,"y":7},{"x":3.5,"y":5},{"x":3.7,"y":3},{"x":3.9,"y":2}],
"E3r": [{"x":0.1,"y":4},{"x":0.3,"y":23},{"x":0.5,"y":21},{"x":0.7,"y":20},{"x":0.9,"y":22},{"x":1.1,"y":17},{"x":1.3,"y":20},{"x":1.5,"y":17},{"x":1.7,"y":17},{"x":1.9,"y":18},{"x":2.1,"y":17},{"x":2.3,"y":17},{"x":2.5,"y":12},{"x":2.7,"y":9},{"x":2.9,"y":9},{"x":3.1,"y":7},{"x":3.3,"y":6},{"x":3.5,"y":5},{"x":3.7,"y":4},{"x":3.9,"y":3}],
"E3c1": [{"x":0.12,"y":32},{"x":0.4,"y":55},{"x":0.7,"y":78},{"x":0.97,"y":87},{"x":1.25,"y":78},{"x":1.55,"y":55},{"x":1.8,"y":32},{"x":2.1,"y":16.2},{"x":2.4,"y":8.2},{"x":2.8,"y":4.6},{"x":3.2,"y":4.1},{"x":4,"y":4}],
"E3c2": [{"x":0.12,"y":14},{"x":0.5,"y":16},{"x":1.0,"y":17.7},{"x":1.4,"y":18},{"x":1.8,"y":17.4},{"x":2.2,"y":15},{"x":2.6,"y":11.5},{"x":3.0,"y":8},{"x":3.4,"y":5.5},{"x":3.8,"y":4},{"x":4,"y":3.5}],
"E3ig": [{"x":0.01,"y":8},{"x":0.03,"y":12},{"x":0.05,"y":15},{"x":0.07,"y":20},{"x":0.09,"y":25},{"x":0.11,"y":32},{"x":0.13,"y":35},{"x":0.15,"y":38},{"x":0.17,"y":44},{"x":0.19,"y":32},{"x":0.21,"y":28},{"x":0.23,"y":25},{"x":0.25,"y":20},{"x":0.27,"y":18},{"x":0.29,"y":14},{"x":0.31,"y":15},{"x":0.33,"y":12},{"x":0.35,"y":14},{"x":0.37,"y":10},{"x":0.39,"y":8},{"x":0.41,"y":9},{"x":0.43,"y":7},{"x":0.45,"y":8},{"x":0.47,"y":6},{"x":0.49,"y":5},{"x":0.51,"y":6},{"x":0.53,"y":4},{"x":0.55,"y":7},{"x":0.57,"y":4},{"x":0.59,"y":3},{"x":0.61,"y":5},{"x":0.63,"y":3},{"x":0.65,"y":2},{"x":0.67,"y":3},{"x":0.69,"y":2},{"x":0.71,"y":3},{"x":0.73,"y":2},{"x":0.75,"y":1},{"x":0.77,"y":2},{"x":0.79,"y":1}],
"E3ir": [{"x":0.01,"y":1},{"x":0.03,"y":2},{"x":0.05,"y":2},{"x":0.07,"y":3},{"x":0.09,"y":3},{"x":0.11,"y":4},{"x":0.13,"y":5},{"x":0.15,"y":6},{"x":0.17,"y":8},{"x":0.19,"y":7},{"x":0.21,"y":6},{"x":0.23,"y":8},{"x":0.25,"y":7},{"x":0.27,"y":9},{"x":0.29,"y":12},{"x":0.31,"y":8},{"x":0.33,"y":10},{"x":0.35,"y":7},{"x":0.37,"y":6},{"x":0.39,"y":5},{"x":0.41,"y":6},{"x":0.43,"y":5},{"x":0.45,"y":4},{"x":0.47,"y":5},{"x":0.49,"y":4},{"x":0.51,"y":3},{"x":0.53,"y":4},{"x":0.55,"y":3},{"x":0.57,"y":2},{"x":0.59,"y":3},{"x":0.61,"y":2},{"x":0.63,"y":3},{"x":0.65,"y":2},{"x":0.67,"y":2},{"x":0.69,"y":1},{"x":0.71,"y":2},{"x":0.73,"y":1},{"x":0.75,"y":1},{"x":0.77,"y":1},{"x":0.79,"y":1}],
"E3ic1": [{"x":0,"y":3},{"x":0.05,"y":10},{"x":0.1,"y":25},{"x":0.13,"y":33},{"x":0.16,"y":35.5},{"x":0.19,"y":33},{"x":0.22,"y":25},{"x":0.26,"y":14},{"x":0.3,"y":6},{"x":0.35,"y":2.5},{"x":0.4,"y":1.5},{"x":0.82,"y":1}],
"E3ic2": [{"x":0,"y":2},{"x":0.1,"y":4},{"x":0.2,"y":6.5},{"x":0.27,"y":7.5},{"x":0.35,"y":6.5},{"x":0.45,"y":4.5},{"x":0.55,"y":3},{"x":0.65,"y":2},{"x":0.82,"y":1}]
},
"layer": [
{"encoding": {"x": {"field": "x", "type": "quantitative", "scale": {"domain": [0,78], "range": [47.5,231.7], "nice": false, "zero": false}, "axis": null}, "y": {"field": "y", "type": "quantitative", "stack": null, "scale": {"domain": [0,90], "range": [161.5,7.5], "nice": false, "zero": false}, "axis": null}},
 "layer": [
  {"data": {"name": "A1r"}, "mark": {"type": "bar", "orient": "vertical", "size": 2.4, "fill": "#f7a6a6", "stroke": "#e53b3b", "strokeWidth": 0.5}, "encoding": {}},
  {"data": {"name": "A1c"}, "mark": {"type": "line", "color": "#000", "strokeWidth": 1.2, "interpolate": "monotone"}, "encoding": {}}
 ]},
{"data": {"values": [{}]}, "mark": {"type": "rect", "fill": "transparent", "stroke": "#000", "strokeWidth": 1}, "encoding": {"x": {"datum": 0, "type": "quantitative", "scale": {"domain": [0,78], "range": [47.5,231.7], "nice": false, "zero": false}, "axis": {"orient": "bottom", "offset": -849.5, "values": [0,25,50,75], "title": null}}, "x2": {"datum": 78}, "y": {"datum": 0, "type": "quantitative", "scale": {"domain": [0,90], "range": [161.5,7.5], "nice": false, "zero": false}, "axis": {"orient": "left", "offset": -47.5, "values": [0,30,60,90], "title": "a", "titleAngle": 0, "titleX": -41.5, "titleY": 14.5, "titleBaseline": "alphabetic", "titleAlign": "center", "titleFontSize": 19, "titleFontWeight": "bold"}}, "y2": {"datum": 90}}},
{"encoding": {"x": {"field": "x", "type": "quantitative", "scale": {"domain": [0,0.9], "range": [295,481.5], "nice": false, "zero": false}, "axis": null}, "y": {"field": "y", "type": "quantitative", "stack": null, "scale": {"domain": [0,90], "range": [161.5,7.5], "nice": false, "zero": false}, "axis": null}},
 "layer": [
  {"data": {"name": "A2r"}, "mark": {"type": "bar", "orient": "vertical", "size": 2.6, "fill": "#f7a6a6", "stroke": "#e53b3b", "strokeWidth": 0.5}, "encoding": {}},
  {"data": {"name": "A2c"}, "mark": {"type": "line", "color": "#000", "strokeWidth": 1.2, "interpolate": "monotone"}, "encoding": {}}
 ]},
{"data": {"values": [{}]}, "mark": {"type": "rect", "fill": "transparent", "stroke": "#000", "strokeWidth": 1}, "encoding": {"x": {"datum": 0, "type": "quantitative", "scale": {"domain": [0,0.9], "range": [295,481.5], "nice": false, "zero": false}, "axis": {"orient": "bottom", "offset": -849.5, "values": [0,0.3,0.6,0.9], "format": ".1f", "title": null}}, "x2": {"datum": 0.9}, "y": {"datum": 0, "type": "quantitative", "scale": {"domain": [0,90], "range": [161.5,7.5], "nice": false, "zero": false}, "axis": {"orient": "left", "offset": -295, "values": [0,30,60,90], "title": null}}, "y2": {"datum": 90}}},
{"data": {"values": [{}]}, "mark": {"type": "rect", "fill": "white", "stroke": "#000", "strokeWidth": 1}, "encoding": {"x": {"datum": 0, "type": "quantitative", "scale": {"domain": [0,0.35], "range": [387.3,481.5], "nice": false, "zero": false}, "axis": {"orient": "bottom", "offset": -926, "values": [0,0.1,0.2,0.3], "format": ".1f", "title": "Time / ms", "labelFontSize": 11.5, "tickSize": 2, "labelPadding": 0.5, "titleFontSize": 12.5, "titlePadding": 1}}, "x2": {"datum": 0.35}, "y": {"datum": 0, "type": "quantitative", "scale": {"domain": [0,97], "range": [85,7.5], "nice": false, "zero": false}, "axis": {"orient": "left", "offset": -387.3, "values": [0,30,60,90], "title": "Counts", "labelFontSize": 11.5, "tickSize": 2, "labelPadding": 0.5, "titleFontSize": 12.5, "titlePadding": 1}}, "y2": {"datum": 97}}},
{"encoding": {"x": {"field": "x", "type": "quantitative", "scale": {"domain": [0,0.35], "range": [387.3,481.5], "nice": false, "zero": false}, "axis": null}, "y": {"field": "y", "type": "quantitative", "stack": null, "scale": {"domain": [0,97], "range": [85,7.5], "nice": false, "zero": false}, "axis": null}},
 "layer": [
  {"data": {"name": "A2ir"}, "mark": {"type": "bar", "orient": "vertical", "size": 2.7, "fill": "#f24040", "stroke": "#d82020", "strokeWidth": 0.4}, "encoding": {}},
  {"data": {"name": "A2ic"}, "mark": {"type": "line", "color": "#000", "strokeWidth": 1.1, "interpolate": "monotone"}, "encoding": {}}
 ]},
{"encoding": {"x": {"field": "x", "type": "quantitative", "scale": {"domain": [0.0028,0.0124], "range": [547.3,732], "nice": false, "zero": false}, "axis": null}, "y": {"field": "y", "type": "quantitative", "stack": null, "scale": {"domain": [0,40], "range": [161.5,7.5], "nice": false, "zero": false}, "axis": null}},
 "layer": [
  {"data": {"name": "A3r"}, "mark": {"type": "bar", "orient": "vertical", "size": 2.5, "fill": "#f7a6a6", "stroke": "#e53b3b", "strokeWidth": 0.5}, "encoding": {}},
  {"data": {"name": "A3c"}, "mark": {"type": "line", "color": "#000", "strokeWidth": 1.2, "interpolate": "monotone"}, "encoding": {}}
 ]},
{"data": {"values": [{}]}, "mark": {"type": "rect", "fill": "transparent", "stroke": "#000", "strokeWidth": 1}, "encoding": {"x": {"datum": 0.0028, "type": "quantitative", "scale": {"domain": [0.0028,0.0124], "range": [547.3,732], "nice": false, "zero": false}, "axis": {"orient": "bottom", "offset": -849.5, "values": [0.004,0.008,0.012], "format": ".3f", "title": null, "labelFontSize": 15}}, "x2": {"datum": 0.0124}, "y": {"datum": 0, "type": "quantitative", "scale": {"domain": [0,40], "range": [161.5,7.5], "nice": false, "zero": false}, "axis": {"orient": "left", "offset": -547.3, "values": [0,10,20,30,40], "title": null}}, "y2": {"datum": 40}}},
{"data": {"values": [{}]}, "mark": {"type": "rect", "fill": "white", "stroke": "#000", "strokeWidth": 1}, "encoding": {"x": {"datum": 0, "type": "quantitative", "scale": {"domain": [0,100], "range": [638.3,732], "nice": false, "zero": false}, "axis": {"orient": "bottom", "offset": -926, "values": [0,30,60,90], "title": "Charge / fC", "labelFontSize": 11.5, "tickSize": 2, "labelPadding": 0.5, "titleFontSize": 12.5, "titlePadding": 1}}, "x2": {"datum": 100}, "y": {"datum": 0, "type": "quantitative", "scale": {"domain": [0,82], "range": [85,7.5], "nice": false, "zero": false}, "axis": {"orient": "left", "offset": -638.3, "values": [0,25,50,75], "title": "Counts", "labelFontSize": 11.5, "tickSize": 2, "labelPadding": 0.5, "titleFontSize": 12.5, "titlePadding": 1}}, "y2": {"datum": 82}}},
{"encoding": {"x": {"field": "x", "type": "quantitative", "scale": {"domain": [0,100], "range": [638.3,732], "nice": false, "zero": false}, "axis": null}, "y": {"field": "y", "type": "quantitative", "stack": null, "scale": {"domain": [0,82], "range": [85,7.5], "nice": false, "zero": false}, "axis": null}},
 "layer": [
  {"data": {"name": "A3ir"}, "mark": {"type": "bar", "orient": "vertical", "size": 1.9, "fill": "#f24040", "stroke": "#d82020", "strokeWidth": 0.4}, "encoding": {}},
  {"data": {"name": "A3ic"}, "mark": {"type": "line", "color": "#000", "strokeWidth": 1.1, "interpolate": "monotone"}, "encoding": {}}
 ]},
{"encoding": {"x": {"field": "x", "type": "quantitative", "scale": {"domain": [0,600], "range": [47.5,231.7], "nice": false, "zero": false}, "axis": null}, "y": {"field": "y", "type": "quantitative", "stack": null, "scale": {"domain": [0,60], "range": [359,207.3], "nice": false, "zero": false}, "axis": null}},
 "layer": [
  {"data": {"name": "B1r"}, "mark": {"type": "bar", "orient": "vertical", "size": 2.5, "fill": "#f7a6a6", "stroke": "#e53b3b", "strokeWidth": 0.5}, "encoding": {}},
  {"data": {"name": "B1c"}, "mark": {"type": "line", "color": "#000", "strokeWidth": 1.2, "interpolate": "monotone"}, "encoding": {}}
 ]},
{"data": {"values": [{}]}, "mark": {"type": "rect", "fill": "transparent", "stroke": "#000", "strokeWidth": 1}, "encoding": {"x": {"datum": 0, "type": "quantitative", "scale": {"domain": [0,600], "range": [47.5,231.7], "nice": false, "zero": false}, "axis": {"orient": "bottom", "offset": -652, "values": [0,200,400,600], "title": null}}, "x2": {"datum": 600}, "y": {"datum": 0, "type": "quantitative", "scale": {"domain": [0,60], "range": [359,207.3], "nice": false, "zero": false}, "axis": {"orient": "left", "offset": -47.5, "values": [0,20,40,60], "title": "b", "titleAngle": 0, "titleX": -41.5, "titleY": 212, "titleBaseline": "alphabetic", "titleAlign": "center", "titleFontSize": 19, "titleFontWeight": "bold"}}, "y2": {"datum": 60}}},
{"encoding": {"x": {"field": "x", "type": "quantitative", "scale": {"domain": [0.1,1.0], "range": [295,481.5], "nice": false, "zero": false}, "axis": null}, "y": {"field": "y", "type": "quantitative", "stack": null, "scale": {"domain": [0,218], "range": [359,207.3], "nice": false, "zero": false}, "axis": null}},
 "layer": [
  {"data": {"name": "B2r"}, "mark": {"type": "bar", "orient": "vertical", "size": 2.6, "fill": "#f7a6a6", "stroke": "#e53b3b", "strokeWidth": 0.5}, "encoding": {}},
  {"data": {"name": "B2c"}, "mark": {"type": "line", "color": "#000", "strokeWidth": 1.2, "interpolate": "monotone"}, "encoding": {}}
 ]},
{"data": {"values": [{}]}, "mark": {"type": "rect", "fill": "transparent", "stroke": "#000", "strokeWidth": 1}, "encoding": {"x": {"datum": 0.1, "type": "quantitative", "scale": {"domain": [0.1,1.0], "range": [295,481.5], "nice": false, "zero": false}, "axis": {"orient": "bottom", "offset": -652, "values": [0.3,0.6,0.9], "format": ".1f", "title": null}}, "x2": {"datum": 1.0}, "y": {"datum": 0, "type": "quantitative", "scale": {"domain": [0,218], "range": [359,207.3], "nice": false, "zero": false}, "axis": {"orient": "left", "offset": -295, "values": [0,50,100,150,200], "title": null}}, "y2": {"datum": 218}}},
{"data": {"values": [{}]}, "mark": {"type": "rect", "fill": "white", "stroke": "#000", "strokeWidth": 1}, "encoding": {"x": {"datum": 0, "type": "quantitative", "scale": {"domain": [0,0.36], "range": [388.3,481.5], "nice": false, "zero": false}, "axis": {"orient": "bottom", "offset": -728.7, "values": [0,0.1,0.2,0.3], "format": ".1f", "title": "Time / ms", "labelFontSize": 11.5, "tickSize": 2, "labelPadding": 0.5, "titleFontSize": 12.5, "titlePadding": 1}}, "x2": {"datum": 0.36}, "y": {"datum": 0, "type": "quantitative", "scale": {"domain": [0,161], "range": [282.3,207.3], "nice": false, "zero": false}, "axis": {"orient": "left", "offset": -388.3, "values": [0,50,100,150], "title": "Counts", "labelFontSize": 11.5, "tickSize": 2, "labelPadding": 0.5, "titleFontSize": 12.5, "titlePadding": 1}}, "y2": {"datum": 161}}},
{"encoding": {"x": {"field": "x", "type": "quantitative", "scale": {"domain": [0,0.36], "range": [388.3,481.5], "nice": false, "zero": false}, "axis": null}, "y": {"field": "y", "type": "quantitative", "stack": null, "scale": {"domain": [0,161], "range": [282.3,207.3], "nice": false, "zero": false}, "axis": null}},
 "layer": [
  {"data": {"name": "B2ir"}, "mark": {"type": "bar", "orient": "vertical", "size": 2.6, "fill": "#f24040", "stroke": "#d82020", "strokeWidth": 0.4}, "encoding": {}},
  {"data": {"name": "B2ic"}, "mark": {"type": "line", "color": "#000", "strokeWidth": 1.1, "interpolate": "monotone"}, "encoding": {}}
 ]},
{"encoding": {"x": {"field": "x", "type": "quantitative", "scale": {"domain": [0,0.092], "range": [547.3,732], "nice": false, "zero": false}, "axis": null}, "y": {"field": "y", "type": "quantitative", "stack": null, "scale": {"domain": [0,99], "range": [359,207.3], "nice": false, "zero": false}, "axis": null}},
 "layer": [
  {"data": {"name": "B3r"}, "mark": {"type": "bar", "orient": "vertical", "size": 2.4, "fill": "#f7a6a6", "stroke": "#e53b3b", "strokeWidth": 0.5}, "encoding": {}},
  {"data": {"name": "B3c"}, "mark": {"type": "line", "color": "#000", "strokeWidth": 1.2, "interpolate": "monotone"}, "encoding": {}}
 ]},
{"data": {"values": [{}]}, "mark": {"type": "rect", "fill": "transparent", "stroke": "#000", "strokeWidth": 1}, "encoding": {"x": {"datum": 0, "type": "quantitative", "scale": {"domain": [0,0.092], "range": [547.3,732], "nice": false, "zero": false}, "axis": {"orient": "bottom", "offset": -652, "values": [0,0.03,0.06,0.09], "format": ".2f", "title": null}}, "x2": {"datum": 0.092}, "y": {"datum": 0, "type": "quantitative", "scale": {"domain": [0,99], "range": [359,207.3], "nice": false, "zero": false}, "axis": {"orient": "left", "offset": -547.3, "values": [0,30,60,90], "title": null}}, "y2": {"datum": 99}}},
{"data": {"values": [{}]}, "mark": {"type": "rect", "fill": "white", "stroke": "#000", "strokeWidth": 1}, "encoding": {"x": {"datum": 0, "type": "quantitative", "scale": {"domain": [0,0.033], "range": [640,732], "nice": false, "zero": false}, "axis": {"orient": "bottom", "offset": -728.7, "values": [0,0.01,0.02,0.03], "format": ".2f", "title": "Charge / pC", "labelFontSize": 11.5, "tickSize": 2, "labelPadding": 0.5, "titleFontSize": 12.5, "titlePadding": 1}}, "x2": {"datum": 0.033}, "y": {"datum": 0, "type": "quantitative", "scale": {"domain": [0,99], "range": [282.3,207.3], "nice": false, "zero": false}, "axis": {"orient": "left", "offset": -640, "values": [0,30,60,90], "title": "Counts", "labelFontSize": 11.5, "tickSize": 2, "labelPadding": 0.5, "titleFontSize": 12.5, "titlePadding": 1}}, "y2": {"datum": 99}}},
{"encoding": {"x": {"field": "x", "type": "quantitative", "scale": {"domain": [0,0.033], "range": [640,732], "nice": false, "zero": false}, "axis": null}, "y": {"field": "y", "type": "quantitative", "stack": null, "scale": {"domain": [0,99], "range": [282.3,207.3], "nice": false, "zero": false}, "axis": null}},
 "layer": [
  {"data": {"name": "B3ir"}, "mark": {"type": "bar", "orient": "vertical", "size": 2.8, "fill": "#f24040", "stroke": "#d82020", "strokeWidth": 0.4}, "encoding": {}},
  {"data": {"name": "B3ic"}, "mark": {"type": "line", "color": "#000", "strokeWidth": 1.1, "interpolate": "monotone"}, "encoding": {}}
 ]},
{"encoding": {"x": {"field": "x", "type": "quantitative", "scale": {"domain": [0,2000], "range": [47.5,231.7], "nice": false, "zero": false}, "axis": null}, "y": {"field": "y", "type": "quantitative", "stack": null, "scale": {"domain": [0,30], "range": [557,405], "nice": false, "zero": false}, "axis": null}},
 "layer": [
  {"data": {"name": "C1g"}, "mark": {"type": "bar", "orient": "vertical", "size": 1.7, "fill": "#9fd48a", "stroke": "#3f9f2f", "strokeWidth": 0.5}, "encoding": {}},
  {"data": {"name": "C1r"}, "mark": {"type": "bar", "orient": "vertical", "size": 1.7, "fill": "#f7a6a6", "stroke": "#e53b3b", "strokeWidth": 0.5}, "encoding": {}},
  {"data": {"name": "C1c"}, "mark": {"type": "line", "color": "#333", "strokeWidth": 1.2, "interpolate": "monotone"}, "encoding": {}}
 ]},
{"data": {"values": [{}]}, "mark": {"type": "rect", "fill": "transparent", "stroke": "#000", "strokeWidth": 1}, "encoding": {"x": {"datum": 0, "type": "quantitative", "scale": {"domain": [0,2000], "range": [47.5,231.7], "nice": false, "zero": false}, "axis": {"orient": "bottom", "offset": -454, "values": [0,500,1000,1500,2000], "format": "d", "title": "c", "titleAngle": 0, "titleX": 6, "titleY": -148, "titleBaseline": "alphabetic", "titleAlign": "center", "titleFontSize": 19, "titleFontWeight": "bold"}}, "x2": {"datum": 2000}, "y": {"datum": 0, "type": "quantitative", "scale": {"domain": [0,30], "range": [557,405], "nice": false, "zero": false}, "axis": {"orient": "left", "offset": -47.5, "values": [0,10,20,30], "title": "Counts"}}, "y2": {"datum": 30}}},
{"encoding": {"x": {"field": "x", "type": "quantitative", "scale": {"domain": [0,14], "range": [295,481.5], "nice": false, "zero": false}, "axis": null}, "y": {"field": "y", "type": "quantitative", "stack": null, "scale": {"domain": [0,60], "range": [557,405], "nice": false, "zero": false}, "axis": null}},
 "layer": [
  {"data": {"name": "C2g"}, "mark": {"type": "bar", "orient": "vertical", "size": 2.66, "fill": "#c2e6ac", "stroke": "#5cb845", "strokeWidth": 0.5}, "encoding": {}},
  {"data": {"name": "C2r"}, "mark": {"type": "bar", "orient": "vertical", "size": 2.0, "fill": "#e8281c", "fillOpacity": 0.85, "stroke": "#c81a10", "strokeWidth": 0.4}, "encoding": {}},
  {"data": {"name": "C2c1"}, "mark": {"type": "line", "color": "#000", "strokeWidth": 1.2, "interpolate": "monotone"}, "encoding": {}},
  {"data": {"name": "C2c2"}, "mark": {"type": "line", "color": "#000", "strokeWidth": 1.2, "interpolate": "monotone"}, "encoding": {}}
 ]},
{"data": {"values": [{}]}, "mark": {"type": "rect", "fill": "transparent", "stroke": "#000", "strokeWidth": 1}, "encoding": {"x": {"datum": 0, "type": "quantitative", "scale": {"domain": [0,14], "range": [295,481.5], "nice": false, "zero": false}, "axis": {"orient": "bottom", "offset": -454, "values": [0,3,6,9,12], "title": null}}, "x2": {"datum": 14}, "y": {"datum": 0, "type": "quantitative", "scale": {"domain": [0,60], "range": [557,405], "nice": false, "zero": false}, "axis": {"orient": "left", "offset": -295, "values": [0,20,40,60], "title": "Counts"}}, "y2": {"datum": 60}}},
{"data": {"values": [{}]}, "mark": {"type": "rect", "fill": "white", "stroke": "#000", "strokeWidth": 1}, "encoding": {"x": {"datum": 0, "type": "quantitative", "scale": {"domain": [0,1.8], "range": [388.3,481.5], "nice": false, "zero": false}, "axis": {"orient": "bottom", "offset": -531, "values": [0,0.5,1,1.5], "format": ".1f", "title": "Time / ms", "labelFontSize": 11.5, "tickSize": 2, "labelPadding": 0.5, "titleFontSize": 12.5, "titlePadding": 1}}, "x2": {"datum": 1.8}, "y": {"datum": 0, "type": "quantitative", "scale": {"domain": [0,99], "range": [480,405], "nice": false, "zero": false}, "axis": {"orient": "left", "offset": -388.3, "values": [0,30,60,90], "title": "Counts", "labelFontSize": 11.5, "tickSize": 2, "labelPadding": 0.5, "titleFontSize": 12.5, "titlePadding": 1}}, "y2": {"datum": 99}}},
{"encoding": {"x": {"field": "x", "type": "quantitative", "scale": {"domain": [0,1.8], "range": [388.3,481.5], "nice": false, "zero": false}, "axis": null}, "y": {"field": "y", "type": "quantitative", "stack": null, "scale": {"domain": [0,99], "range": [480,405], "nice": false, "zero": false}, "axis": null}},
 "layer": [
  {"data": {"name": "C2ig"}, "mark": {"type": "bar", "orient": "vertical", "size": 1.3, "fill": "#3ca534", "stroke": "#2d8a28", "strokeWidth": 0.3}, "encoding": {}},
  {"data": {"name": "C2ir"}, "mark": {"type": "bar", "orient": "vertical", "size": 1.2, "fill": "#ee2a20", "stroke": "#c81a10", "strokeWidth": 0.3}, "encoding": {}},
  {"data": {"name": "C2ic1"}, "mark": {"type": "line", "color": "#000", "strokeWidth": 1.1, "interpolate": "monotone"}, "encoding": {}},
  {"data": {"name": "C2ic2"}, "mark": {"type": "line", "color": "#000", "strokeWidth": 1.1, "interpolate": "monotone"}, "encoding": {}}
 ]},
{"encoding": {"x": {"field": "x", "type": "quantitative", "scale": {"domain": [0,0.8], "range": [547.3,732], "nice": false, "zero": false}, "axis": null}, "y": {"field": "y", "type": "quantitative", "stack": null, "scale": {"domain": [0,80], "range": [557,405], "nice": false, "zero": false}, "axis": null}},
 "layer": [
  {"data": {"name": "C3g"}, "mark": {"type": "bar", "orient": "vertical", "size": 5.8, "fill": "#c6e8b2", "stroke": "#5cb845", "strokeWidth": 0.7}, "encoding": {}},
  {"data": {"name": "C3r"}, "mark": {"type": "bar", "orient": "vertical", "size": 5.8, "fill": "#f0a088", "fillOpacity": 0.55, "stroke": "#e0563c", "strokeWidth": 0.7}, "encoding": {}},
  {"data": {"name": "C3c1"}, "mark": {"type": "line", "color": "#000", "strokeWidth": 1.2, "interpolate": "monotone"}, "encoding": {}},
  {"data": {"name": "C3c2"}, "mark": {"type": "line", "color": "#000", "strokeWidth": 1.2, "interpolate": "monotone"}, "encoding": {}}
 ]},
{"data": {"values": [{}]}, "mark": {"type": "rect", "fill": "transparent", "stroke": "#000", "strokeWidth": 1}, "encoding": {"x": {"datum": 0, "type": "quantitative", "scale": {"domain": [0,0.8], "range": [547.3,732], "nice": false, "zero": false}, "axis": {"orient": "bottom", "offset": -454, "values": [0,0.2,0.4,0.6,0.8], "format": ".1f", "title": null}}, "x2": {"datum": 0.8}, "y": {"datum": 0, "type": "quantitative", "scale": {"domain": [0,80], "range": [557,405], "nice": false, "zero": false}, "axis": {"orient": "left", "offset": -547.3, "values": [0,20,40,60,80], "title": "Counts"}}, "y2": {"datum": 80}}},
{"data": {"values": [{}]}, "mark": {"type": "rect", "fill": "white", "stroke": "#000", "strokeWidth": 1}, "encoding": {"x": {"datum": 0, "type": "quantitative", "scale": {"domain": [0,0.54], "range": [640,732], "nice": false, "zero": false}, "axis": {"orient": "bottom", "offset": -530, "values": [0,0.15,0.3,0.45], "format": ".2f", "title": "Charge / pC", "labelFontSize": 11.5, "tickSize": 2, "labelPadding": 0.5, "titleFontSize": 12.5, "titlePadding": 1}}, "x2": {"datum": 0.54}, "y": {"datum": 0, "type": "quantitative", "scale": {"domain": [0,51], "range": [481,405], "nice": false, "zero": false}, "axis": {"orient": "left", "offset": -640, "values": [0,15,30,45], "title": "Counts", "labelFontSize": 11.5, "tickSize": 2, "labelPadding": 0.5, "titleFontSize": 12.5, "titlePadding": 1}}, "y2": {"datum": 51}}},
{"encoding": {"x": {"field": "x", "type": "quantitative", "scale": {"domain": [0,0.54], "range": [640,732], "nice": false, "zero": false}, "axis": null}, "y": {"field": "y", "type": "quantitative", "stack": null, "scale": {"domain": [0,51], "range": [481,405], "nice": false, "zero": false}, "axis": null}},
 "layer": [
  {"data": {"name": "C3ig"}, "mark": {"type": "bar", "orient": "vertical", "size": 1.7, "fill": "#4cb040", "stroke": "#2d8a28", "strokeWidth": 0.3}, "encoding": {}},
  {"data": {"name": "C3ir"}, "mark": {"type": "bar", "orient": "vertical", "size": 1.7, "fill": "#e8302a", "fillOpacity": 0.7, "stroke": "#c02010", "strokeWidth": 0.3}, "encoding": {}},
  {"data": {"name": "C3ic1"}, "mark": {"type": "line", "color": "#000", "strokeWidth": 1.1, "interpolate": "monotone"}, "encoding": {}},
  {"data": {"name": "C3ic2"}, "mark": {"type": "line", "color": "#000", "strokeWidth": 1.1, "interpolate": "monotone"}, "encoding": {}}
 ]},
{"encoding": {"x": {"field": "x", "type": "quantitative", "scale": {"domain": [0,3000], "range": [47.5,231.7], "nice": false, "zero": false}, "axis": null}, "y": {"field": "y", "type": "quantitative", "stack": null, "scale": {"domain": [0,60], "range": [759.5,607], "nice": false, "zero": false}, "axis": null}},
 "layer": [
  {"data": {"name": "D1g"}, "mark": {"type": "bar", "orient": "vertical", "size": 4.5, "fill": "#c6e8b2", "stroke": "#5cb845", "strokeWidth": 0.7}, "encoding": {}},
  {"data": {"name": "D1r"}, "mark": {"type": "bar", "orient": "vertical", "size": 4.5, "fill": "#f09080", "fillOpacity": 0.6, "stroke": "#e0563c", "strokeWidth": 0.7}, "encoding": {}},
  {"data": {"name": "D1c1"}, "mark": {"type": "line", "color": "#000", "strokeWidth": 1.2, "interpolate": "monotone"}, "encoding": {}},
  {"data": {"name": "D1c2"}, "mark": {"type": "line", "color": "#000", "strokeWidth": 1.2, "interpolate": "monotone"}, "encoding": {}}
 ]},
{"data": {"values": [{}]}, "mark": {"type": "rect", "fill": "transparent", "stroke": "#000", "strokeWidth": 1}, "encoding": {"x": {"datum": 0, "type": "quantitative", "scale": {"domain": [0,3000], "range": [47.5,231.7], "nice": false, "zero": false}, "axis": {"orient": "bottom", "offset": -251.5, "values": [0,1000,2000,3000], "format": "d", "title": null}}, "x2": {"datum": 3000}, "y": {"datum": 0, "type": "quantitative", "scale": {"domain": [0,60], "range": [759.5,607], "nice": false, "zero": false}, "axis": {"orient": "left", "offset": -47.5, "values": [0,20,40,60], "title": "d", "titleAngle": 0, "titleX": -41.5, "titleY": 614, "titleBaseline": "alphabetic", "titleAlign": "center", "titleFontSize": 19, "titleFontWeight": "bold"}}, "y2": {"datum": 60}}},
{"encoding": {"x": {"field": "x", "type": "quantitative", "scale": {"domain": [0,50], "range": [295,481.5], "nice": false, "zero": false}, "axis": null}, "y": {"field": "y", "type": "quantitative", "stack": null, "scale": {"domain": [0,69.5], "range": [759.5,607], "nice": false, "zero": false}, "axis": null}},
 "layer": [
  {"data": {"name": "D2g"}, "mark": {"type": "bar", "orient": "vertical", "size": 9.0, "fill": "#c6e8b2", "stroke": "#5cb845", "strokeWidth": 0.7}, "encoding": {}},
  {"data": {"name": "D2r"}, "mark": {"type": "bar", "orient": "vertical", "size": 4.5, "fill": "#e8604a", "fillOpacity": 0.85, "stroke": "#d04430", "strokeWidth": 0.5}, "encoding": {}},
  {"data": {"name": "D2c1"}, "mark": {"type": "line", "color": "#000", "strokeWidth": 1.2, "interpolate": "monotone"}, "encoding": {}},
  {"data": {"name": "D2c2"}, "mark": {"type": "line", "color": "#000", "strokeWidth": 1.2, "interpolate": "monotone"}, "encoding": {}}
 ]},
{"data": {"values": [{}]}, "mark": {"type": "rect", "fill": "transparent", "stroke": "#000", "strokeWidth": 1}, "encoding": {"x": {"datum": 0, "type": "quantitative", "scale": {"domain": [0,50], "range": [295,481.5], "nice": false, "zero": false}, "axis": {"orient": "bottom", "offset": -251.5, "values": [0,10,20,30,40,50], "title": null}}, "x2": {"datum": 50}, "y": {"datum": 0, "type": "quantitative", "scale": {"domain": [0,69.5], "range": [759.5,607], "nice": false, "zero": false}, "axis": {"orient": "left", "offset": -295, "values": [0,20,40,60], "title": null}}, "y2": {"datum": 69.5}}},
{"data": {"values": [{}]}, "mark": {"type": "rect", "fill": "white", "stroke": "#000", "strokeWidth": 1}, "encoding": {"x": {"datum": 0, "type": "quantitative", "scale": {"domain": [0,2.07], "range": [389.3,481.5], "nice": false, "zero": false}, "axis": {"orient": "bottom", "offset": -327.7, "values": [0,0.6,1.2,1.8], "format": ".1f", "title": "Time / ms", "labelFontSize": 11.5, "tickSize": 2, "labelPadding": 0.5, "titleFontSize": 12.5, "titlePadding": 1}}, "x2": {"datum": 2.07}, "y": {"datum": 0, "type": "quantitative", "scale": {"domain": [0,97], "range": [683.3,607], "nice": false, "zero": false}, "axis": {"orient": "left", "offset": -389.3, "values": [0,30,60,90], "title": "Counts", "labelFontSize": 11.5, "tickSize": 2, "labelPadding": 0.5, "titleFontSize": 12.5, "titlePadding": 1}}, "y2": {"datum": 97}}},
{"encoding": {"x": {"field": "x", "type": "quantitative", "scale": {"domain": [0,2.07], "range": [389.3,481.5], "nice": false, "zero": false}, "axis": null}, "y": {"field": "y", "type": "quantitative", "stack": null, "scale": {"domain": [0,97], "range": [683.3,607], "nice": false, "zero": false}, "axis": null}},
 "layer": [
  {"data": {"name": "D2ig"}, "mark": {"type": "bar", "orient": "vertical", "size": 1.5, "fill": "#4cb040", "stroke": "#2d8a28", "strokeWidth": 0.3}, "encoding": {}},
  {"data": {"name": "D2ir"}, "mark": {"type": "bar", "orient": "vertical", "size": 1.4, "fill": "#e8302a", "fillOpacity": 0.7, "stroke": "#c02010", "strokeWidth": 0.3}, "encoding": {}},
  {"data": {"name": "D2ic"}, "mark": {"type": "line", "color": "#000", "strokeWidth": 1.1, "interpolate": "monotone"}, "encoding": {}}
 ]},
{"encoding": {"x": {"field": "x", "type": "quantitative", "scale": {"domain": [0,1.8], "range": [547.3,732], "nice": false, "zero": false}, "axis": null}, "y": {"field": "y", "type": "quantitative", "stack": null, "scale": {"domain": [0,60], "range": [759.5,607], "nice": false, "zero": false}, "axis": null}},
 "layer": [
  {"data": {"name": "D3g"}, "mark": {"type": "bar", "orient": "vertical", "size": 5.1, "fill": "#c6e8b2", "stroke": "#5cb845", "strokeWidth": 0.7}, "encoding": {}},
  {"data": {"name": "D3r"}, "mark": {"type": "bar", "orient": "vertical", "size": 5.1, "fill": "#f09080", "fillOpacity": 0.6, "stroke": "#e0563c", "strokeWidth": 0.7}, "encoding": {}},
  {"data": {"name": "D3c1"}, "mark": {"type": "line", "color": "#000", "strokeWidth": 1.2, "interpolate": "monotone"}, "encoding": {}},
  {"data": {"name": "D3c2"}, "mark": {"type": "line", "color": "#000", "strokeWidth": 1.2, "interpolate": "monotone"}, "encoding": {}}
 ]},
{"data": {"values": [{}]}, "mark": {"type": "rect", "fill": "transparent", "stroke": "#000", "strokeWidth": 1}, "encoding": {"x": {"datum": 0, "type": "quantitative", "scale": {"domain": [0,1.8], "range": [547.3,732], "nice": false, "zero": false}, "axis": {"orient": "bottom", "offset": -251.5, "values": [0,0.5,1,1.5], "format": ".1f", "title": null}}, "x2": {"datum": 1.8}, "y": {"datum": 0, "type": "quantitative", "scale": {"domain": [0,60], "range": [759.5,607], "nice": false, "zero": false}, "axis": {"orient": "left", "offset": -547.3, "values": [0,20,40,60], "title": null}}, "y2": {"datum": 60}}},
{"data": {"values": [{}]}, "mark": {"type": "rect", "fill": "white", "stroke": "#000", "strokeWidth": 1}, "encoding": {"x": {"datum": 0, "type": "quantitative", "scale": {"domain": [0,0.6], "range": [638.3,732], "nice": false, "zero": false}, "axis": {"orient": "bottom", "offset": -327.7, "values": [0,0.2,0.4], "title": "Charge / pC", "labelFontSize": 11.5, "tickSize": 2, "labelPadding": 0.5, "titleFontSize": 12.5, "titlePadding": 1}}, "x2": {"datum": 0.6}, "y": {"datum": 0, "type": "quantitative", "scale": {"domain": [0,59], "range": [683.3,607], "nice": false, "zero": false}, "axis": {"orient": "left", "offset": -638.3, "values": [0,20,40], "title": "Counts", "labelFontSize": 11.5, "tickSize": 2, "labelPadding": 0.5, "titleFontSize": 12.5, "titlePadding": 1}}, "y2": {"datum": 59}}},
{"encoding": {"x": {"field": "x", "type": "quantitative", "scale": {"domain": [0,0.6], "range": [638.3,732], "nice": false, "zero": false}, "axis": null}, "y": {"field": "y", "type": "quantitative", "stack": null, "scale": {"domain": [0,59], "range": [683.3,607], "nice": false, "zero": false}, "axis": null}},
 "layer": [
  {"data": {"name": "D3ig"}, "mark": {"type": "bar", "orient": "vertical", "size": 3.1, "fill": "#4cb040", "stroke": "#2d8a28", "strokeWidth": 0.3}, "encoding": {}},
  {"data": {"name": "D3ir"}, "mark": {"type": "bar", "orient": "vertical", "size": 3.1, "fill": "#e8302a", "fillOpacity": 0.65, "stroke": "#c02010", "strokeWidth": 0.3}, "encoding": {}},
  {"data": {"name": "D3ic1"}, "mark": {"type": "line", "color": "#000", "strokeWidth": 1.1, "interpolate": "monotone"}, "encoding": {}},
  {"data": {"name": "D3ic2"}, "mark": {"type": "line", "color": "#000", "strokeWidth": 1.1, "interpolate": "monotone"}, "encoding": {}}
 ]},
{"encoding": {"x": {"field": "x", "type": "quantitative", "scale": {"domain": [0,3540], "range": [47.5,231.7], "nice": false, "zero": false}, "axis": null}, "y": {"field": "y", "type": "quantitative", "stack": null, "scale": {"domain": [0,100], "range": [961.5,807.7], "nice": false, "zero": false}, "axis": null}},
 "layer": [
  {"data": {"name": "E1r"}, "mark": {"type": "bar", "orient": "vertical", "size": 5.2, "fill": "#f9c0c0", "stroke": "#ec6060", "strokeWidth": 0.7}, "encoding": {}},
  {"data": {"name": "E1g"}, "mark": {"type": "bar", "orient": "vertical", "size": 5.2, "fill": "#8fbc5c", "fillOpacity": 0.85, "stroke": "#6a9a3a", "strokeWidth": 0.5}, "encoding": {}},
  {"data": {"name": "E1c1"}, "mark": {"type": "line", "color": "#000", "strokeWidth": 1.2, "interpolate": "monotone"}, "encoding": {}},
  {"data": {"name": "E1c2"}, "mark": {"type": "line", "color": "#000", "strokeWidth": 1.2, "interpolate": "monotone"}, "encoding": {}}
 ]},
{"data": {"values": [{}]}, "mark": {"type": "rect", "fill": "transparent", "stroke": "#000", "strokeWidth": 1}, "encoding": {"x": {"datum": 0, "type": "quantitative", "scale": {"domain": [0,3540], "range": [47.5,231.7], "nice": false, "zero": false}, "axis": {"orient": "bottom", "offset": -49.5, "values": [0,1000,2000,3000], "format": "d", "title": "Currentₘₐₓ / pA", "titlePadding": 7}}, "x2": {"datum": 3540}, "y": {"datum": 0, "type": "quantitative", "scale": {"domain": [0,100], "range": [961.5,807.7], "nice": false, "zero": false}, "axis": {"orient": "left", "offset": -47.5, "values": [0,30,60,90], "title": "e", "titleAngle": 0, "titleX": -41.5, "titleY": 812, "titleBaseline": "alphabetic", "titleAlign": "center", "titleFontSize": 19, "titleFontWeight": "bold"}}, "y2": {"datum": 100}}},
{"encoding": {"x": {"field": "x", "type": "quantitative", "scale": {"domain": [0,150], "range": [295,481.5], "nice": false, "zero": false}, "axis": null}, "y": {"field": "y", "type": "quantitative", "stack": null, "scale": {"domain": [0,50], "range": [961.5,807.7], "nice": false, "zero": false}, "axis": null}},
 "layer": [
  {"data": {"name": "E2g"}, "mark": {"type": "bar", "orient": "vertical", "size": 2.5, "fill": "#c6e8b2", "stroke": "#5cb845", "strokeWidth": 0.5}, "encoding": {}},
  {"data": {"name": "E2r"}, "mark": {"type": "bar", "orient": "vertical", "size": 2.7, "fill": "#e02a1a", "fillOpacity": 0.72, "stroke": "#c82010", "strokeWidth": 0.4}, "encoding": {}},
  {"data": {"name": "E2c1"}, "mark": {"type": "line", "color": "#000", "strokeWidth": 1.2, "interpolate": "monotone"}, "encoding": {}},
  {"data": {"name": "E2c2"}, "mark": {"type": "line", "color": "#000", "strokeWidth": 1.2, "interpolate": "monotone"}, "encoding": {}}
 ]},
{"data": {"values": [{}]}, "mark": {"type": "rect", "fill": "transparent", "stroke": "#000", "strokeWidth": 1}, "encoding": {"x": {"datum": 0, "type": "quantitative", "scale": {"domain": [0,150], "range": [295,481.5], "nice": false, "zero": false}, "axis": {"orient": "bottom", "offset": -49.5, "values": [0,30,60,90,120,150], "title": "Time / ms", "titlePadding": 7}}, "x2": {"datum": 150}, "y": {"datum": 0, "type": "quantitative", "scale": {"domain": [0,50], "range": [961.5,807.7], "nice": false, "zero": false}, "axis": {"orient": "left", "offset": -295, "values": [0,10,20,30,40,50], "title": null}}, "y2": {"datum": 50}}},
{"data": {"values": [{}]}, "mark": {"type": "rect", "fill": "white", "stroke": "#000", "strokeWidth": 1}, "encoding": {"x": {"datum": 0, "type": "quantitative", "scale": {"domain": [0,2.0], "range": [390,481.5], "nice": false, "zero": false}, "axis": {"orient": "bottom", "offset": -126.7, "values": [0,0.6,1.2,1.8], "format": ".1f", "title": "Time / ms", "labelFontSize": 11.5, "tickSize": 2, "labelPadding": 0.5, "titleFontSize": 12.5, "titlePadding": 1}}, "x2": {"datum": 2.0}, "y": {"datum": 0, "type": "quantitative", "scale": {"domain": [0,62], "range": [884.3,807.7], "nice": false, "zero": false}, "axis": {"orient": "left", "offset": -390, "values": [0,20,40], "title": "Counts", "labelFontSize": 11.5, "tickSize": 2, "labelPadding": 0.5, "titleFontSize": 12.5, "titlePadding": 1}}, "y2": {"datum": 62}}},
{"encoding": {"x": {"field": "x", "type": "quantitative", "scale": {"domain": [0,2.0], "range": [390,481.5], "nice": false, "zero": false}, "axis": null}, "y": {"field": "y", "type": "quantitative", "stack": null, "scale": {"domain": [0,62], "range": [884.3,807.7], "nice": false, "zero": false}, "axis": null}},
 "layer": [
  {"data": {"name": "E2ig"}, "mark": {"type": "bar", "orient": "vertical", "size": 2.3, "fill": "#4cb040", "stroke": "#2d8a28", "strokeWidth": 0.3}, "encoding": {}},
  {"data": {"name": "E2ir"}, "mark": {"type": "bar", "orient": "vertical", "size": 2.3, "fill": "#e8302a", "fillOpacity": 0.7, "stroke": "#c02010", "strokeWidth": 0.3}, "encoding": {}},
  {"data": {"name": "E2ic1"}, "mark": {"type": "line", "color": "#000", "strokeWidth": 1.1, "interpolate": "monotone"}, "encoding": {}},
  {"data": {"name": "E2ic2"}, "mark": {"type": "line", "color": "#000", "strokeWidth": 1.1, "interpolate": "monotone"}, "encoding": {}}
 ]},
{"encoding": {"x": {"field": "x", "type": "quantitative", "scale": {"domain": [0,4], "range": [547.3,732], "nice": false, "zero": false}, "axis": null}, "y": {"field": "y", "type": "quantitative", "stack": null, "scale": {"domain": [0,100], "range": [961.5,807.7], "nice": false, "zero": false}, "axis": null}},
 "layer": [
  {"data": {"name": "E3g"}, "mark": {"type": "bar", "orient": "vertical", "size": 9.2, "fill": "#c6e8b2", "stroke": "#5cb845", "strokeWidth": 0.7}, "encoding": {}},
  {"data": {"name": "E3r"}, "mark": {"type": "bar", "orient": "vertical", "size": 9.2, "fill": "#f09080", "fillOpacity": 0.6, "stroke": "#e0563c", "strokeWidth": 0.7}, "encoding": {}},
  {"data": {"name": "E3c1"}, "mark": {"type": "line", "color": "#000", "strokeWidth": 1.2, "interpolate": "monotone"}, "encoding": {}},
  {"data": {"name": "E3c2"}, "mark": {"type": "line", "color": "#000", "strokeWidth": 1.2, "interpolate": "monotone"}, "encoding": {}}
 ]},
{"data": {"values": [{}]}, "mark": {"type": "rect", "fill": "transparent", "stroke": "#000", "strokeWidth": 1}, "encoding": {"x": {"datum": 0, "type": "quantitative", "scale": {"domain": [0,4], "range": [547.3,732], "nice": false, "zero": false}, "axis": {"orient": "bottom", "offset": -49.5, "values": [0,1,2,3,4], "title": "Charge / pC", "titlePadding": 7}}, "x2": {"datum": 4}, "y": {"datum": 0, "type": "quantitative", "scale": {"domain": [0,100], "range": [961.5,807.7], "nice": false, "zero": false}, "axis": {"orient": "left", "offset": -547.3, "values": [0,30,60,90], "title": null}}, "y2": {"datum": 100}}},
{"data": {"values": [{}]}, "mark": {"type": "rect", "fill": "white", "stroke": "#000", "strokeWidth": 1}, "encoding": {"x": {"datum": 0, "type": "quantitative", "scale": {"domain": [0,0.82], "range": [640,732], "nice": false, "zero": false}, "axis": {"orient": "bottom", "offset": -126, "values": [0,0.25,0.5,0.75], "format": ".2f", "title": "Charge / pC", "labelFontSize": 11.5, "tickSize": 2, "labelPadding": 0.5, "titleFontSize": 12.5, "titlePadding": 1}}, "x2": {"datum": 0.82}, "y": {"datum": 0, "type": "quantitative", "scale": {"domain": [0,51], "range": [885,807.7], "nice": false, "zero": false}, "axis": {"orient": "left", "offset": -640, "values": [0,15,30,45], "title": "Counts", "labelFontSize": 11.5, "tickSize": 2, "labelPadding": 0.5, "titleFontSize": 12.5, "titlePadding": 1}}, "y2": {"datum": 51}}},
{"encoding": {"x": {"field": "x", "type": "quantitative", "scale": {"domain": [0,0.82], "range": [640,732], "nice": false, "zero": false}, "axis": null}, "y": {"field": "y", "type": "quantitative", "stack": null, "scale": {"domain": [0,51], "range": [885,807.7], "nice": false, "zero": false}, "axis": null}},
 "layer": [
  {"data": {"name": "E3ig"}, "mark": {"type": "bar", "orient": "vertical", "size": 2.2, "fill": "#4cb040", "stroke": "#2d8a28", "strokeWidth": 0.3}, "encoding": {}},
  {"data": {"name": "E3ir"}, "mark": {"type": "bar", "orient": "vertical", "size": 2.2, "fill": "#e8302a", "fillOpacity": 0.7, "stroke": "#c02010", "strokeWidth": 0.3}, "encoding": {}},
  {"data": {"name": "E3ic1"}, "mark": {"type": "line", "color": "#000", "strokeWidth": 1.1, "interpolate": "monotone"}, "encoding": {}},
  {"data": {"name": "E3ic2"}, "mark": {"type": "line", "color": "#000", "strokeWidth": 1.1, "interpolate": "monotone"}, "encoding": {}}
 ]}
]
}
